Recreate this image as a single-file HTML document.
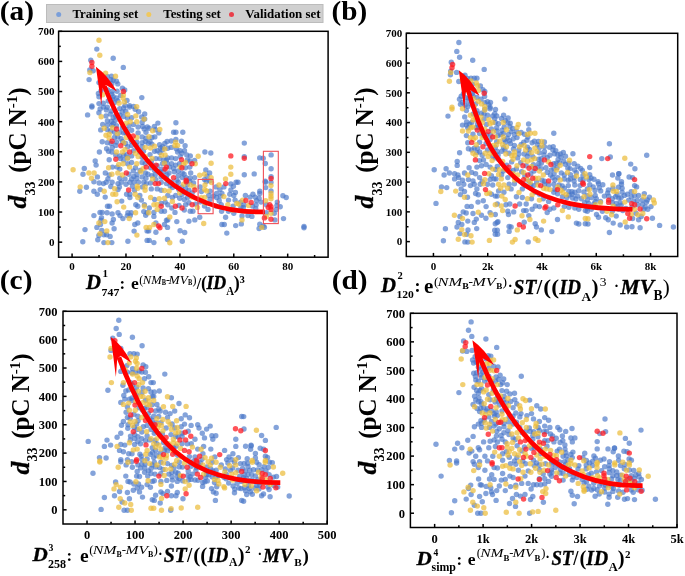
<!DOCTYPE html>
<html><head><meta charset="utf-8"><style>html,body{margin:0;padding:0;background:#fff;width:685px;height:576px;overflow:hidden}</style></head>
<body><svg xmlns="http://www.w3.org/2000/svg" width="685" height="576" viewBox="0 0 685 576" style="position:absolute;left:0;top:0;filter:blur(0.35px)" font-family='"Liberation Serif", serif'><rect width="685" height="576" fill="#fff"/><g fill="#4a78c8" fill-opacity="0.68"><circle cx="96.8" cy="49.1" r="2.7"/><circle cx="113.2" cy="58.2" r="2.7"/><circle cx="90.8" cy="60.2" r="2.7"/><circle cx="123.3" cy="67.4" r="2.7"/><circle cx="89.8" cy="70.0" r="2.7"/><circle cx="93.2" cy="70.7" r="2.7"/><circle cx="89.1" cy="79.6" r="2.7"/><circle cx="111.5" cy="76.1" r="2.7"/><circle cx="110.9" cy="79.6" r="2.7"/><circle cx="113.2" cy="80.3" r="2.7"/><circle cx="116.5" cy="81.2" r="2.7"/><circle cx="117.8" cy="83.9" r="2.7"/><circle cx="122.4" cy="88.2" r="2.7"/><circle cx="124.7" cy="89.9" r="2.7"/><circle cx="112.1" cy="91.4" r="2.7"/><circle cx="111.9" cy="94.1" r="2.7"/><circle cx="113.2" cy="96.7" r="2.7"/><circle cx="117.1" cy="91.2" r="2.7"/><circle cx="116.5" cy="98.0" r="2.7"/><circle cx="117.8" cy="100.6" r="2.7"/><circle cx="127.0" cy="100.4" r="2.7"/><circle cx="141.8" cy="97.6" r="2.7"/><circle cx="103.3" cy="103.3" r="2.7"/><circle cx="91.9" cy="105.9" r="2.7"/><circle cx="112.5" cy="99.3" r="2.7"/><circle cx="114.5" cy="102.6" r="2.7"/><circle cx="125.0" cy="105.6" r="2.7"/><circle cx="129.6" cy="105.6" r="2.7"/><circle cx="91.9" cy="107.1" r="2.7"/><circle cx="103.3" cy="107.1" r="2.7"/><circle cx="107.3" cy="107.3" r="2.7"/><circle cx="106.4" cy="109.9" r="2.7"/><circle cx="119.8" cy="108.6" r="2.7"/><circle cx="123.7" cy="108.0" r="2.7"/><circle cx="129.6" cy="107.1" r="2.7"/><circle cx="125.7" cy="111.3" r="2.7"/><circle cx="122.1" cy="111.9" r="2.7"/><circle cx="87.6" cy="114.9" r="2.7"/><circle cx="106.0" cy="115.9" r="2.7"/><circle cx="110.3" cy="114.1" r="2.7"/><circle cx="113.2" cy="117.8" r="2.7"/><circle cx="144.7" cy="113.9" r="2.7"/><circle cx="119.8" cy="115.2" r="2.7"/><circle cx="123.7" cy="116.5" r="2.7"/><circle cx="131.6" cy="117.8" r="2.7"/><circle cx="144.7" cy="119.1" r="2.7"/><circle cx="111.2" cy="121.5" r="2.7"/><circle cx="115.2" cy="120.5" r="2.7"/><circle cx="113.2" cy="123.7" r="2.7"/><circle cx="133.5" cy="124.4" r="2.7"/><circle cx="142.1" cy="122.4" r="2.7"/><circle cx="102.7" cy="124.4" r="2.7"/><circle cx="107.3" cy="125.1" r="2.7"/><circle cx="111.9" cy="125.1" r="2.7"/><circle cx="116.5" cy="125.7" r="2.7"/><circle cx="107.3" cy="129.6" r="2.7"/><circle cx="100.7" cy="129.9" r="2.7"/><circle cx="110.6" cy="131.0" r="2.7"/><circle cx="122.4" cy="127.7" r="2.7"/><circle cx="128.9" cy="125.7" r="2.7"/><circle cx="126.3" cy="129.6" r="2.7"/><circle cx="131.6" cy="130.3" r="2.7"/><circle cx="138.1" cy="127.0" r="2.7"/><circle cx="142.7" cy="126.4" r="2.7"/><circle cx="147.3" cy="127.0" r="2.7"/><circle cx="146.0" cy="132.3" r="2.7"/><circle cx="138.1" cy="132.9" r="2.7"/><circle cx="114.5" cy="132.3" r="2.7"/><circle cx="119.8" cy="132.3" r="2.7"/><circle cx="123.7" cy="132.9" r="2.7"/><circle cx="142.1" cy="136.9" r="2.7"/><circle cx="146.0" cy="138.2" r="2.7"/><circle cx="114.5" cy="137.5" r="2.7"/><circle cx="117.8" cy="136.9" r="2.7"/><circle cx="121.1" cy="138.8" r="2.7"/><circle cx="130.3" cy="138.8" r="2.7"/><circle cx="107.3" cy="142.8" r="2.7"/><circle cx="111.2" cy="143.4" r="2.7"/><circle cx="116.5" cy="142.1" r="2.7"/><circle cx="122.4" cy="141.5" r="2.7"/><circle cx="125.7" cy="143.4" r="2.7"/><circle cx="131.6" cy="141.5" r="2.7"/><circle cx="136.8" cy="142.1" r="2.7"/><circle cx="142.1" cy="142.8" r="2.7"/><circle cx="145.4" cy="141.5" r="2.7"/><circle cx="115.8" cy="145.4" r="2.7"/><circle cx="127.6" cy="146.7" r="2.7"/><circle cx="131.6" cy="145.4" r="2.7"/><circle cx="136.8" cy="145.4" r="2.7"/><circle cx="142.1" cy="146.7" r="2.7"/><circle cx="99.4" cy="152.0" r="2.7"/><circle cx="106.6" cy="148.7" r="2.7"/><circle cx="108.6" cy="151.3" r="2.7"/><circle cx="111.9" cy="152.0" r="2.7"/><circle cx="133.5" cy="150.7" r="2.7"/><circle cx="139.5" cy="152.0" r="2.7"/><circle cx="143.4" cy="151.3" r="2.7"/><circle cx="115.8" cy="155.3" r="2.7"/><circle cx="119.8" cy="155.9" r="2.7"/><circle cx="123.7" cy="155.3" r="2.7"/><circle cx="127.6" cy="157.9" r="2.7"/><circle cx="131.6" cy="155.9" r="2.7"/><circle cx="142.1" cy="157.2" r="2.7"/><circle cx="120.4" cy="158.6" r="2.7"/><circle cx="123.7" cy="159.9" r="2.7"/><circle cx="95.2" cy="160.9" r="2.7"/><circle cx="96.1" cy="165.1" r="2.7"/><circle cx="84.3" cy="168.4" r="2.7"/><circle cx="83.0" cy="174.3" r="2.7"/><circle cx="97.4" cy="176.9" r="2.7"/><circle cx="105.3" cy="173.0" r="2.7"/><circle cx="112.5" cy="167.1" r="2.7"/><circle cx="117.1" cy="167.1" r="2.7"/><circle cx="127.6" cy="163.8" r="2.7"/><circle cx="131.6" cy="162.5" r="2.7"/><circle cx="142.1" cy="162.5" r="2.7"/><circle cx="119.8" cy="169.1" r="2.7"/><circle cx="135.5" cy="167.8" r="2.7"/><circle cx="140.1" cy="170.4" r="2.7"/><circle cx="128.9" cy="174.3" r="2.7"/><circle cx="145.4" cy="173.0" r="2.7"/><circle cx="109.2" cy="175.0" r="2.7"/><circle cx="107.9" cy="178.9" r="2.7"/><circle cx="119.8" cy="178.3" r="2.7"/><circle cx="125.0" cy="178.9" r="2.7"/><circle cx="131.6" cy="178.9" r="2.7"/><circle cx="136.8" cy="178.3" r="2.7"/><circle cx="142.1" cy="176.9" r="2.7"/><circle cx="146.0" cy="178.3" r="2.7"/><circle cx="157.9" cy="123.1" r="2.7"/><circle cx="175.9" cy="122.8" r="2.7"/><circle cx="149.1" cy="128.3" r="2.7"/><circle cx="158.8" cy="132.9" r="2.7"/><circle cx="173.6" cy="132.3" r="2.7"/><circle cx="175.9" cy="132.3" r="2.7"/><circle cx="182.8" cy="132.3" r="2.7"/><circle cx="151.9" cy="137.5" r="2.7"/><circle cx="154.8" cy="136.9" r="2.7"/><circle cx="175.9" cy="139.5" r="2.7"/><circle cx="181.5" cy="141.2" r="2.7"/><circle cx="167.1" cy="141.5" r="2.7"/><circle cx="164.8" cy="143.4" r="2.7"/><circle cx="151.9" cy="144.1" r="2.7"/><circle cx="159.6" cy="144.8" r="2.7"/><circle cx="160.5" cy="148.0" r="2.7"/><circle cx="162.5" cy="146.7" r="2.7"/><circle cx="185.1" cy="145.7" r="2.7"/><circle cx="176.2" cy="148.7" r="2.7"/><circle cx="177.6" cy="152.0" r="2.7"/><circle cx="184.5" cy="150.7" r="2.7"/><circle cx="181.9" cy="153.3" r="2.7"/><circle cx="157.2" cy="150.7" r="2.7"/><circle cx="159.8" cy="152.6" r="2.7"/><circle cx="154.6" cy="151.3" r="2.7"/><circle cx="150.0" cy="154.6" r="2.7"/><circle cx="186.8" cy="154.9" r="2.7"/><circle cx="190.3" cy="155.9" r="2.7"/><circle cx="204.9" cy="152.0" r="2.7"/><circle cx="210.8" cy="153.0" r="2.7"/><circle cx="167.7" cy="157.9" r="2.7"/><circle cx="155.9" cy="158.6" r="2.7"/><circle cx="159.8" cy="158.6" r="2.7"/><circle cx="163.8" cy="159.9" r="2.7"/><circle cx="166.4" cy="159.9" r="2.7"/><circle cx="171.6" cy="157.9" r="2.7"/><circle cx="175.6" cy="158.6" r="2.7"/><circle cx="180.2" cy="156.6" r="2.7"/><circle cx="187.4" cy="159.9" r="2.7"/><circle cx="189.8" cy="161.2" r="2.7"/><circle cx="194.6" cy="160.5" r="2.7"/><circle cx="151.3" cy="161.2" r="2.7"/><circle cx="162.5" cy="163.8" r="2.7"/><circle cx="171.6" cy="163.8" r="2.7"/><circle cx="175.6" cy="165.1" r="2.7"/><circle cx="179.5" cy="163.8" r="2.7"/><circle cx="185.4" cy="167.8" r="2.7"/><circle cx="189.8" cy="167.1" r="2.7"/><circle cx="169.7" cy="167.1" r="2.7"/><circle cx="173.6" cy="168.4" r="2.7"/><circle cx="161.1" cy="169.1" r="2.7"/><circle cx="157.2" cy="165.8" r="2.7"/><circle cx="150.6" cy="167.8" r="2.7"/><circle cx="154.6" cy="170.4" r="2.7"/><circle cx="159.8" cy="171.7" r="2.7"/><circle cx="163.8" cy="171.7" r="2.7"/><circle cx="169.0" cy="173.0" r="2.7"/><circle cx="174.3" cy="171.7" r="2.7"/><circle cx="178.2" cy="171.0" r="2.7"/><circle cx="182.2" cy="173.0" r="2.7"/><circle cx="184.1" cy="174.3" r="2.7"/><circle cx="190.7" cy="173.0" r="2.7"/><circle cx="148.0" cy="174.3" r="2.7"/><circle cx="151.9" cy="175.6" r="2.7"/><circle cx="161.1" cy="176.9" r="2.7"/><circle cx="166.4" cy="178.3" r="2.7"/><circle cx="178.2" cy="175.6" r="2.7"/><circle cx="182.2" cy="177.6" r="2.7"/><circle cx="186.1" cy="177.6" r="2.7"/><circle cx="190.0" cy="178.3" r="2.7"/><circle cx="194.6" cy="177.6" r="2.7"/><circle cx="204.5" cy="179.6" r="2.7"/><circle cx="155.9" cy="179.6" r="2.7"/><circle cx="176.9" cy="180.2" r="2.7"/><circle cx="244.3" cy="143.1" r="2.7"/><circle cx="244.3" cy="156.6" r="2.7"/><circle cx="259.7" cy="157.9" r="2.7"/><circle cx="263.2" cy="158.2" r="2.7"/><circle cx="271.1" cy="154.9" r="2.7"/><circle cx="265.3" cy="163.5" r="2.7"/><circle cx="271.1" cy="168.8" r="2.7"/><circle cx="244.3" cy="174.7" r="2.7"/><circle cx="254.2" cy="173.9" r="2.7"/><circle cx="271.1" cy="176.7" r="2.7"/><circle cx="265.3" cy="181.2" r="2.7"/><circle cx="93.9" cy="181.7" r="2.7"/><circle cx="99.2" cy="183.0" r="2.7"/><circle cx="103.5" cy="183.6" r="2.7"/><circle cx="106.2" cy="182.3" r="2.7"/><circle cx="112.1" cy="182.3" r="2.7"/><circle cx="118.0" cy="183.6" r="2.7"/><circle cx="121.3" cy="182.3" r="2.7"/><circle cx="126.0" cy="184.3" r="2.7"/><circle cx="129.9" cy="182.3" r="2.7"/><circle cx="133.9" cy="182.1" r="2.7"/><circle cx="138.5" cy="182.3" r="2.7"/><circle cx="143.8" cy="182.3" r="2.7"/><circle cx="146.4" cy="183.6" r="2.7"/><circle cx="86.4" cy="187.3" r="2.7"/><circle cx="79.8" cy="191.3" r="2.7"/><circle cx="93.9" cy="191.3" r="2.7"/><circle cx="97.3" cy="194.2" r="2.7"/><circle cx="100.2" cy="189.6" r="2.7"/><circle cx="105.2" cy="197.1" r="2.7"/><circle cx="110.8" cy="186.5" r="2.7"/><circle cx="118.0" cy="189.6" r="2.7"/><circle cx="119.4" cy="186.9" r="2.7"/><circle cx="132.5" cy="186.3" r="2.7"/><circle cx="142.4" cy="186.9" r="2.7"/><circle cx="134.5" cy="190.2" r="2.7"/><circle cx="126.6" cy="194.2" r="2.7"/><circle cx="129.9" cy="194.2" r="2.7"/><circle cx="129.9" cy="197.5" r="2.7"/><circle cx="139.8" cy="195.5" r="2.7"/><circle cx="141.4" cy="200.1" r="2.7"/><circle cx="121.7" cy="201.1" r="2.7"/><circle cx="107.5" cy="206.3" r="2.7"/><circle cx="109.5" cy="206.3" r="2.7"/><circle cx="135.8" cy="204.8" r="2.7"/><circle cx="137.8" cy="206.3" r="2.7"/><circle cx="144.4" cy="204.8" r="2.7"/><circle cx="93.9" cy="215.6" r="2.7"/><circle cx="100.0" cy="212.4" r="2.7"/><circle cx="102.2" cy="212.4" r="2.7"/><circle cx="107.1" cy="212.7" r="2.7"/><circle cx="112.1" cy="214.0" r="2.7"/><circle cx="118.0" cy="212.7" r="2.7"/><circle cx="120.0" cy="215.6" r="2.7"/><circle cx="122.9" cy="218.6" r="2.7"/><circle cx="127.3" cy="215.6" r="2.7"/><circle cx="127.9" cy="212.7" r="2.7"/><circle cx="131.2" cy="212.7" r="2.7"/><circle cx="130.3" cy="215.6" r="2.7"/><circle cx="143.8" cy="211.6" r="2.7"/><circle cx="147.1" cy="212.7" r="2.7"/><circle cx="145.7" cy="215.3" r="2.7"/><circle cx="101.5" cy="217.7" r="2.7"/><circle cx="100.9" cy="220.3" r="2.7"/><circle cx="100.5" cy="224.5" r="2.7"/><circle cx="113.4" cy="219.5" r="2.7"/><circle cx="112.1" cy="223.0" r="2.7"/><circle cx="134.8" cy="224.5" r="2.7"/><circle cx="137.8" cy="223.0" r="2.7"/><circle cx="96.9" cy="227.4" r="2.7"/><circle cx="85.0" cy="229.6" r="2.7"/><circle cx="101.8" cy="230.5" r="2.7"/><circle cx="114.1" cy="228.8" r="2.7"/><circle cx="134.1" cy="231.1" r="2.7"/><circle cx="147.1" cy="230.9" r="2.7"/><circle cx="98.9" cy="235.4" r="2.7"/><circle cx="103.9" cy="234.8" r="2.7"/><circle cx="106.6" cy="234.8" r="2.7"/><circle cx="110.1" cy="236.4" r="2.7"/><circle cx="97.8" cy="239.7" r="2.7"/><circle cx="82.8" cy="241.7" r="2.7"/><circle cx="103.9" cy="242.6" r="2.7"/><circle cx="111.8" cy="242.6" r="2.7"/><circle cx="127.9" cy="241.3" r="2.7"/><circle cx="147.1" cy="240.4" r="2.7"/><circle cx="150.6" cy="183.0" r="2.7"/><circle cx="161.2" cy="182.3" r="2.7"/><circle cx="166.5" cy="183.6" r="2.7"/><circle cx="171.8" cy="182.3" r="2.7"/><circle cx="178.3" cy="182.3" r="2.7"/><circle cx="193.5" cy="183.0" r="2.7"/><circle cx="151.3" cy="188.9" r="2.7"/><circle cx="157.2" cy="188.9" r="2.7"/><circle cx="161.2" cy="190.2" r="2.7"/><circle cx="172.4" cy="187.6" r="2.7"/><circle cx="176.4" cy="186.3" r="2.7"/><circle cx="181.6" cy="186.9" r="2.7"/><circle cx="185.6" cy="188.9" r="2.7"/><circle cx="188.9" cy="190.2" r="2.7"/><circle cx="192.2" cy="192.9" r="2.7"/><circle cx="200.1" cy="186.9" r="2.7"/><circle cx="201.4" cy="191.6" r="2.7"/><circle cx="216.0" cy="186.9" r="2.7"/><circle cx="223.9" cy="186.9" r="2.7"/><circle cx="219.9" cy="189.6" r="2.7"/><circle cx="230.9" cy="190.0" r="2.7"/><circle cx="236.1" cy="182.3" r="2.7"/><circle cx="216.6" cy="193.5" r="2.7"/><circle cx="221.9" cy="193.5" r="2.7"/><circle cx="229.8" cy="194.2" r="2.7"/><circle cx="233.8" cy="195.5" r="2.7"/><circle cx="154.6" cy="199.5" r="2.7"/><circle cx="167.8" cy="195.5" r="2.7"/><circle cx="172.4" cy="197.5" r="2.7"/><circle cx="175.7" cy="195.5" r="2.7"/><circle cx="179.7" cy="198.2" r="2.7"/><circle cx="184.3" cy="199.5" r="2.7"/><circle cx="187.6" cy="197.5" r="2.7"/><circle cx="208.7" cy="195.5" r="2.7"/><circle cx="210.0" cy="199.5" r="2.7"/><circle cx="216.6" cy="197.5" r="2.7"/><circle cx="228.5" cy="200.1" r="2.7"/><circle cx="235.1" cy="200.1" r="2.7"/><circle cx="161.2" cy="203.4" r="2.7"/><circle cx="165.2" cy="202.1" r="2.7"/><circle cx="167.8" cy="204.8" r="2.7"/><circle cx="179.0" cy="205.4" r="2.7"/><circle cx="185.6" cy="204.8" r="2.7"/><circle cx="188.9" cy="202.8" r="2.7"/><circle cx="195.5" cy="204.1" r="2.7"/><circle cx="204.5" cy="206.1" r="2.7"/><circle cx="208.0" cy="209.4" r="2.7"/><circle cx="219.2" cy="200.8" r="2.7"/><circle cx="221.2" cy="204.8" r="2.7"/><circle cx="233.1" cy="206.1" r="2.7"/><circle cx="216.0" cy="206.1" r="2.7"/><circle cx="149.3" cy="208.0" r="2.7"/><circle cx="161.2" cy="211.3" r="2.7"/><circle cx="164.5" cy="211.3" r="2.7"/><circle cx="171.8" cy="208.0" r="2.7"/><circle cx="175.0" cy="212.4" r="2.7"/><circle cx="184.3" cy="210.0" r="2.7"/><circle cx="190.2" cy="211.3" r="2.7"/><circle cx="192.9" cy="211.3" r="2.7"/><circle cx="153.9" cy="212.4" r="2.7"/><circle cx="153.9" cy="216.4" r="2.7"/><circle cx="221.6" cy="211.3" r="2.7"/><circle cx="228.5" cy="211.3" r="2.7"/><circle cx="233.8" cy="213.3" r="2.7"/><circle cx="166.5" cy="220.2" r="2.7"/><circle cx="167.8" cy="219.9" r="2.7"/><circle cx="176.8" cy="221.6" r="2.7"/><circle cx="188.9" cy="221.2" r="2.7"/><circle cx="194.8" cy="219.9" r="2.7"/><circle cx="199.7" cy="217.3" r="2.7"/><circle cx="225.6" cy="217.3" r="2.7"/><circle cx="155.9" cy="223.0" r="2.7"/><circle cx="164.5" cy="224.5" r="2.7"/><circle cx="167.5" cy="227.4" r="2.7"/><circle cx="148.7" cy="230.9" r="2.7"/><circle cx="155.9" cy="232.2" r="2.7"/><circle cx="180.1" cy="230.7" r="2.7"/><circle cx="184.7" cy="232.5" r="2.7"/><circle cx="221.9" cy="224.5" r="2.7"/><circle cx="224.3" cy="224.5" r="2.7"/><circle cx="235.7" cy="225.6" r="2.7"/><circle cx="226.8" cy="233.1" r="2.7"/><circle cx="149.3" cy="240.4" r="2.7"/><circle cx="153.9" cy="242.6" r="2.7"/><circle cx="167.5" cy="239.5" r="2.7"/><circle cx="182.3" cy="241.3" r="2.7"/><circle cx="238.0" cy="182.3" r="2.7"/><circle cx="265.4" cy="182.3" r="2.7"/><circle cx="271.0" cy="182.3" r="2.7"/><circle cx="265.7" cy="187.6" r="2.7"/><circle cx="259.8" cy="191.3" r="2.7"/><circle cx="259.8" cy="193.5" r="2.7"/><circle cx="271.0" cy="190.9" r="2.7"/><circle cx="250.1" cy="197.1" r="2.7"/><circle cx="255.2" cy="197.1" r="2.7"/><circle cx="259.1" cy="198.2" r="2.7"/><circle cx="282.9" cy="195.8" r="2.7"/><circle cx="286.2" cy="197.5" r="2.7"/><circle cx="240.6" cy="202.1" r="2.7"/><circle cx="256.5" cy="200.8" r="2.7"/><circle cx="261.1" cy="202.1" r="2.7"/><circle cx="266.4" cy="204.8" r="2.7"/><circle cx="277.3" cy="202.1" r="2.7"/><circle cx="276.9" cy="205.4" r="2.7"/><circle cx="280.2" cy="206.7" r="2.7"/><circle cx="276.3" cy="209.4" r="2.7"/><circle cx="243.9" cy="204.8" r="2.7"/><circle cx="252.5" cy="206.1" r="2.7"/><circle cx="243.3" cy="207.4" r="2.7"/><circle cx="255.8" cy="208.7" r="2.7"/><circle cx="266.4" cy="212.7" r="2.7"/><circle cx="274.3" cy="213.3" r="2.7"/><circle cx="242.0" cy="216.0" r="2.7"/><circle cx="247.9" cy="215.6" r="2.7"/><circle cx="251.9" cy="216.4" r="2.7"/><circle cx="274.9" cy="219.9" r="2.7"/><circle cx="283.5" cy="218.6" r="2.7"/><circle cx="241.3" cy="223.9" r="2.7"/><circle cx="259.8" cy="224.3" r="2.7"/><circle cx="263.1" cy="225.9" r="2.7"/><circle cx="259.1" cy="228.5" r="2.7"/><circle cx="264.4" cy="227.2" r="2.7"/><circle cx="304.0" cy="226.5" r="2.7"/><circle cx="304.0" cy="227.8" r="2.7"/><circle cx="458.9" cy="42.5" r="2.7"/><circle cx="456.8" cy="51.4" r="2.7"/><circle cx="459.6" cy="57.3" r="2.7"/><circle cx="472.7" cy="60.3" r="2.7"/><circle cx="484.2" cy="69.4" r="2.7"/><circle cx="451.3" cy="62.2" r="2.7"/><circle cx="450.7" cy="71.1" r="2.7"/><circle cx="450.4" cy="74.8" r="2.7"/><circle cx="456.6" cy="72.4" r="2.7"/><circle cx="471.0" cy="78.3" r="2.7"/><circle cx="474.3" cy="78.3" r="2.7"/><circle cx="476.9" cy="78.3" r="2.7"/><circle cx="472.4" cy="84.2" r="2.7"/><circle cx="482.9" cy="89.8" r="2.7"/><circle cx="484.8" cy="91.5" r="2.7"/><circle cx="484.6" cy="96.5" r="2.7"/><circle cx="461.2" cy="96.3" r="2.7"/><circle cx="465.1" cy="97.4" r="2.7"/><circle cx="472.4" cy="93.4" r="2.7"/><circle cx="473.0" cy="95.8" r="2.7"/><circle cx="476.9" cy="97.4" r="2.7"/><circle cx="467.8" cy="101.3" r="2.7"/><circle cx="487.5" cy="101.6" r="2.7"/><circle cx="484.8" cy="102.6" r="2.7"/><circle cx="490.1" cy="107.2" r="2.7"/><circle cx="465.1" cy="105.3" r="2.7"/><circle cx="467.8" cy="106.6" r="2.7"/><circle cx="475.6" cy="103.9" r="2.7"/><circle cx="504.9" cy="99.0" r="2.7"/><circle cx="466.4" cy="110.6" r="2.7"/><circle cx="464.7" cy="116.9" r="2.7"/><circle cx="448.0" cy="116.1" r="2.7"/><circle cx="476.9" cy="110.6" r="2.7"/><circle cx="484.8" cy="109.3" r="2.7"/><circle cx="490.1" cy="108.7" r="2.7"/><circle cx="481.5" cy="113.3" r="2.7"/><circle cx="487.5" cy="115.2" r="2.7"/><circle cx="492.7" cy="115.9" r="2.7"/><circle cx="494.7" cy="118.5" r="2.7"/><circle cx="495.3" cy="122.5" r="2.7"/><circle cx="462.5" cy="125.1" r="2.7"/><circle cx="466.4" cy="125.1" r="2.7"/><circle cx="471.7" cy="122.5" r="2.7"/><circle cx="477.6" cy="124.4" r="2.7"/><circle cx="467.8" cy="127.7" r="2.7"/><circle cx="491.4" cy="129.0" r="2.7"/><circle cx="466.4" cy="135.6" r="2.7"/><circle cx="473.0" cy="134.3" r="2.7"/><circle cx="479.6" cy="133.6" r="2.7"/><circle cx="483.5" cy="135.6" r="2.7"/><circle cx="490.1" cy="139.5" r="2.7"/><circle cx="467.8" cy="142.8" r="2.7"/><circle cx="479.6" cy="142.2" r="2.7"/><circle cx="486.1" cy="143.5" r="2.7"/><circle cx="490.1" cy="146.1" r="2.7"/><circle cx="495.3" cy="147.4" r="2.7"/><circle cx="468.4" cy="148.7" r="2.7"/><circle cx="471.7" cy="150.0" r="2.7"/><circle cx="474.3" cy="148.1" r="2.7"/><circle cx="479.6" cy="152.0" r="2.7"/><circle cx="482.2" cy="155.3" r="2.7"/><circle cx="487.5" cy="150.0" r="2.7"/><circle cx="492.7" cy="151.4" r="2.7"/><circle cx="459.6" cy="152.7" r="2.7"/><circle cx="479.6" cy="160.6" r="2.7"/><circle cx="483.5" cy="159.9" r="2.7"/><circle cx="495.3" cy="157.9" r="2.7"/><circle cx="457.2" cy="161.5" r="2.7"/><circle cx="457.2" cy="165.4" r="2.7"/><circle cx="446.1" cy="168.7" r="2.7"/><circle cx="434.2" cy="169.8" r="2.7"/><circle cx="469.1" cy="167.8" r="2.7"/><circle cx="476.9" cy="167.1" r="2.7"/><circle cx="481.5" cy="165.8" r="2.7"/><circle cx="486.1" cy="164.5" r="2.7"/><circle cx="490.1" cy="167.1" r="2.7"/><circle cx="449.4" cy="173.0" r="2.7"/><circle cx="444.1" cy="175.0" r="2.7"/><circle cx="454.6" cy="173.7" r="2.7"/><circle cx="457.9" cy="175.0" r="2.7"/><circle cx="464.5" cy="173.0" r="2.7"/><circle cx="471.7" cy="172.4" r="2.7"/><circle cx="475.6" cy="173.7" r="2.7"/><circle cx="491.4" cy="175.7" r="2.7"/><circle cx="454.6" cy="178.9" r="2.7"/><circle cx="458.6" cy="177.6" r="2.7"/><circle cx="462.5" cy="180.3" r="2.7"/><circle cx="468.4" cy="179.6" r="2.7"/><circle cx="473.0" cy="180.9" r="2.7"/><circle cx="490.1" cy="179.6" r="2.7"/><circle cx="494.0" cy="178.9" r="2.7"/><circle cx="479.6" cy="177.6" r="2.7"/><circle cx="482.2" cy="181.6" r="2.7"/><circle cx="496.7" cy="115.9" r="2.7"/><circle cx="503.6" cy="115.2" r="2.7"/><circle cx="508.1" cy="117.9" r="2.7"/><circle cx="505.2" cy="120.5" r="2.7"/><circle cx="498.6" cy="123.8" r="2.7"/><circle cx="528.6" cy="124.0" r="2.7"/><circle cx="496.7" cy="127.7" r="2.7"/><circle cx="501.9" cy="130.3" r="2.7"/><circle cx="511.1" cy="131.6" r="2.7"/><circle cx="528.8" cy="129.7" r="2.7"/><circle cx="553.8" cy="133.2" r="2.7"/><circle cx="498.0" cy="135.6" r="2.7"/><circle cx="507.2" cy="138.2" r="2.7"/><circle cx="513.1" cy="138.9" r="2.7"/><circle cx="517.0" cy="137.6" r="2.7"/><circle cx="526.9" cy="140.2" r="2.7"/><circle cx="532.1" cy="142.8" r="2.7"/><circle cx="537.4" cy="144.8" r="2.7"/><circle cx="544.4" cy="141.9" r="2.7"/><circle cx="510.5" cy="143.5" r="2.7"/><circle cx="514.4" cy="145.4" r="2.7"/><circle cx="529.5" cy="149.4" r="2.7"/><circle cx="539.4" cy="147.4" r="2.7"/><circle cx="544.4" cy="146.8" r="2.7"/><circle cx="544.4" cy="151.4" r="2.7"/><circle cx="539.4" cy="152.7" r="2.7"/><circle cx="497.3" cy="151.4" r="2.7"/><circle cx="509.1" cy="153.3" r="2.7"/><circle cx="519.0" cy="154.0" r="2.7"/><circle cx="524.2" cy="154.0" r="2.7"/><circle cx="528.8" cy="153.3" r="2.7"/><circle cx="532.8" cy="156.6" r="2.7"/><circle cx="549.9" cy="155.3" r="2.7"/><circle cx="563.3" cy="152.4" r="2.7"/><circle cx="572.9" cy="153.7" r="2.7"/><circle cx="517.7" cy="157.9" r="2.7"/><circle cx="538.7" cy="159.2" r="2.7"/><circle cx="541.3" cy="163.2" r="2.7"/><circle cx="556.4" cy="163.2" r="2.7"/><circle cx="561.0" cy="157.3" r="2.7"/><circle cx="563.7" cy="161.2" r="2.7"/><circle cx="574.2" cy="163.8" r="2.7"/><circle cx="557.1" cy="167.8" r="2.7"/><circle cx="526.2" cy="165.8" r="2.7"/><circle cx="538.0" cy="167.1" r="2.7"/><circle cx="545.9" cy="167.8" r="2.7"/><circle cx="497.3" cy="166.5" r="2.7"/><circle cx="503.2" cy="171.1" r="2.7"/><circle cx="513.1" cy="170.4" r="2.7"/><circle cx="521.6" cy="171.7" r="2.7"/><circle cx="530.8" cy="173.7" r="2.7"/><circle cx="547.2" cy="172.4" r="2.7"/><circle cx="550.5" cy="175.0" r="2.7"/><circle cx="542.0" cy="180.3" r="2.7"/><circle cx="557.8" cy="177.6" r="2.7"/><circle cx="564.3" cy="175.0" r="2.7"/><circle cx="574.2" cy="177.6" r="2.7"/><circle cx="568.3" cy="180.3" r="2.7"/><circle cx="496.0" cy="178.9" r="2.7"/><circle cx="507.8" cy="177.6" r="2.7"/><circle cx="528.8" cy="180.9" r="2.7"/><circle cx="609.4" cy="143.7" r="2.7"/><circle cx="601.8" cy="158.6" r="2.7"/><circle cx="610.3" cy="157.0" r="2.7"/><circle cx="646.7" cy="155.3" r="2.7"/><circle cx="630.7" cy="164.1" r="2.7"/><circle cx="634.9" cy="168.8" r="2.7"/><circle cx="589.7" cy="167.5" r="2.7"/><circle cx="589.7" cy="174.7" r="2.7"/><circle cx="588.9" cy="179.6" r="2.7"/><circle cx="598.1" cy="181.8" r="2.7"/><circle cx="612.5" cy="175.0" r="2.7"/><circle cx="618.8" cy="173.7" r="2.7"/><circle cx="618.8" cy="173.7" r="2.7"/><circle cx="617.8" cy="178.0" r="2.7"/><circle cx="629.1" cy="177.0" r="2.7"/><circle cx="632.6" cy="177.6" r="2.7"/><circle cx="621.5" cy="181.8" r="2.7"/><circle cx="458.6" cy="183.7" r="2.7"/><circle cx="463.8" cy="184.3" r="2.7"/><circle cx="470.4" cy="185.6" r="2.7"/><circle cx="474.3" cy="184.3" r="2.7"/><circle cx="480.2" cy="184.3" r="2.7"/><circle cx="487.5" cy="184.3" r="2.7"/><circle cx="492.7" cy="185.0" r="2.7"/><circle cx="441.5" cy="186.9" r="2.7"/><circle cx="446.7" cy="187.6" r="2.7"/><circle cx="461.2" cy="188.9" r="2.7"/><circle cx="464.5" cy="191.5" r="2.7"/><circle cx="460.5" cy="194.6" r="2.7"/><circle cx="467.5" cy="197.2" r="2.7"/><circle cx="476.9" cy="188.9" r="2.7"/><circle cx="475.6" cy="193.5" r="2.7"/><circle cx="478.3" cy="194.8" r="2.7"/><circle cx="491.4" cy="194.2" r="2.7"/><circle cx="495.3" cy="196.1" r="2.7"/><circle cx="436.0" cy="203.4" r="2.7"/><circle cx="478.0" cy="202.1" r="2.7"/><circle cx="483.3" cy="200.7" r="2.7"/><circle cx="467.1" cy="206.4" r="2.7"/><circle cx="471.3" cy="206.4" r="2.7"/><circle cx="486.1" cy="206.6" r="2.7"/><circle cx="463.2" cy="211.9" r="2.7"/><circle cx="466.2" cy="213.0" r="2.7"/><circle cx="473.0" cy="213.5" r="2.7"/><circle cx="481.5" cy="215.2" r="2.7"/><circle cx="485.9" cy="218.2" r="2.7"/><circle cx="490.1" cy="212.6" r="2.7"/><circle cx="495.3" cy="214.5" r="2.7"/><circle cx="459.9" cy="216.5" r="2.7"/><circle cx="467.8" cy="221.1" r="2.7"/><circle cx="474.3" cy="222.4" r="2.7"/><circle cx="476.3" cy="219.1" r="2.7"/><circle cx="458.3" cy="222.4" r="2.7"/><circle cx="457.0" cy="227.0" r="2.7"/><circle cx="461.8" cy="224.4" r="2.7"/><circle cx="445.4" cy="228.7" r="2.7"/><circle cx="468.0" cy="229.9" r="2.7"/><circle cx="476.7" cy="228.6" r="2.7"/><circle cx="459.9" cy="233.6" r="2.7"/><circle cx="466.7" cy="234.2" r="2.7"/><circle cx="495.3" cy="223.7" r="2.7"/><circle cx="494.7" cy="230.3" r="2.7"/><circle cx="495.3" cy="234.2" r="2.7"/><circle cx="464.9" cy="241.9" r="2.7"/><circle cx="467.8" cy="242.1" r="2.7"/><circle cx="443.4" cy="240.8" r="2.7"/><circle cx="509.1" cy="184.3" r="2.7"/><circle cx="514.4" cy="183.7" r="2.7"/><circle cx="511.1" cy="188.9" r="2.7"/><circle cx="503.9" cy="192.2" r="2.7"/><circle cx="498.6" cy="190.9" r="2.7"/><circle cx="522.3" cy="188.9" r="2.7"/><circle cx="525.6" cy="185.6" r="2.7"/><circle cx="530.8" cy="185.0" r="2.7"/><circle cx="544.6" cy="184.3" r="2.7"/><circle cx="548.6" cy="185.0" r="2.7"/><circle cx="553.8" cy="184.3" r="2.7"/><circle cx="559.1" cy="185.0" r="2.7"/><circle cx="564.3" cy="188.3" r="2.7"/><circle cx="568.3" cy="185.6" r="2.7"/><circle cx="574.8" cy="185.0" r="2.7"/><circle cx="580.1" cy="185.6" r="2.7"/><circle cx="553.8" cy="192.2" r="2.7"/><circle cx="535.4" cy="192.2" r="2.7"/><circle cx="539.4" cy="194.2" r="2.7"/><circle cx="497.3" cy="196.1" r="2.7"/><circle cx="516.4" cy="196.8" r="2.7"/><circle cx="522.3" cy="197.5" r="2.7"/><circle cx="531.5" cy="198.8" r="2.7"/><circle cx="543.3" cy="198.8" r="2.7"/><circle cx="548.6" cy="201.4" r="2.7"/><circle cx="562.4" cy="196.8" r="2.7"/><circle cx="566.9" cy="197.5" r="2.7"/><circle cx="572.2" cy="194.2" r="2.7"/><circle cx="574.8" cy="192.2" r="2.7"/><circle cx="577.5" cy="196.1" r="2.7"/><circle cx="581.4" cy="198.8" r="2.7"/><circle cx="497.3" cy="204.0" r="2.7"/><circle cx="505.9" cy="204.7" r="2.7"/><circle cx="509.8" cy="204.0" r="2.7"/><circle cx="519.6" cy="204.0" r="2.7"/><circle cx="526.2" cy="204.0" r="2.7"/><circle cx="535.4" cy="206.0" r="2.7"/><circle cx="539.4" cy="206.6" r="2.7"/><circle cx="549.9" cy="209.3" r="2.7"/><circle cx="553.8" cy="208.0" r="2.7"/><circle cx="564.3" cy="206.6" r="2.7"/><circle cx="568.9" cy="207.3" r="2.7"/><circle cx="574.8" cy="208.0" r="2.7"/><circle cx="578.8" cy="209.3" r="2.7"/><circle cx="585.3" cy="210.6" r="2.7"/><circle cx="507.8" cy="211.2" r="2.7"/><circle cx="513.7" cy="211.9" r="2.7"/><circle cx="523.6" cy="210.6" r="2.7"/><circle cx="526.2" cy="210.6" r="2.7"/><circle cx="532.1" cy="209.3" r="2.7"/><circle cx="547.2" cy="212.6" r="2.7"/><circle cx="508.5" cy="214.5" r="2.7"/><circle cx="528.8" cy="215.6" r="2.7"/><circle cx="497.1" cy="222.4" r="2.7"/><circle cx="498.0" cy="221.8" r="2.7"/><circle cx="509.1" cy="226.4" r="2.7"/><circle cx="511.1" cy="227.0" r="2.7"/><circle cx="524.2" cy="222.2" r="2.7"/><circle cx="535.2" cy="223.7" r="2.7"/><circle cx="536.5" cy="227.0" r="2.7"/><circle cx="557.5" cy="219.5" r="2.7"/><circle cx="576.4" cy="223.1" r="2.7"/><circle cx="578.8" cy="224.0" r="2.7"/><circle cx="585.3" cy="223.7" r="2.7"/><circle cx="509.1" cy="231.4" r="2.7"/><circle cx="497.3" cy="230.3" r="2.7"/><circle cx="497.6" cy="234.2" r="2.7"/><circle cx="541.3" cy="229.9" r="2.7"/><circle cx="551.8" cy="231.6" r="2.7"/><circle cx="528.2" cy="241.9" r="2.7"/><circle cx="593.2" cy="186.9" r="2.7"/><circle cx="598.5" cy="183.7" r="2.7"/><circle cx="587.3" cy="188.9" r="2.7"/><circle cx="612.9" cy="188.3" r="2.7"/><circle cx="621.5" cy="184.3" r="2.7"/><circle cx="622.1" cy="188.3" r="2.7"/><circle cx="622.1" cy="192.2" r="2.7"/><circle cx="634.6" cy="185.6" r="2.7"/><circle cx="636.6" cy="186.9" r="2.7"/><circle cx="607.7" cy="192.9" r="2.7"/><circle cx="604.4" cy="196.1" r="2.7"/><circle cx="595.2" cy="195.5" r="2.7"/><circle cx="591.3" cy="197.5" r="2.7"/><circle cx="587.3" cy="200.1" r="2.7"/><circle cx="627.4" cy="194.2" r="2.7"/><circle cx="631.3" cy="196.8" r="2.7"/><circle cx="638.6" cy="195.5" r="2.7"/><circle cx="615.6" cy="196.8" r="2.7"/><circle cx="618.8" cy="198.1" r="2.7"/><circle cx="612.3" cy="198.8" r="2.7"/><circle cx="600.5" cy="201.4" r="2.7"/><circle cx="593.9" cy="204.0" r="2.7"/><circle cx="588.6" cy="203.4" r="2.7"/><circle cx="628.7" cy="200.1" r="2.7"/><circle cx="620.2" cy="202.7" r="2.7"/><circle cx="616.2" cy="203.4" r="2.7"/><circle cx="612.3" cy="202.7" r="2.7"/><circle cx="637.9" cy="204.7" r="2.7"/><circle cx="643.8" cy="209.3" r="2.7"/><circle cx="647.8" cy="209.3" r="2.7"/><circle cx="651.0" cy="206.6" r="2.7"/><circle cx="587.3" cy="208.0" r="2.7"/><circle cx="591.3" cy="209.3" r="2.7"/><circle cx="587.3" cy="211.2" r="2.7"/><circle cx="602.4" cy="211.2" r="2.7"/><circle cx="612.3" cy="211.2" r="2.7"/><circle cx="618.8" cy="209.3" r="2.7"/><circle cx="622.8" cy="210.6" r="2.7"/><circle cx="635.9" cy="213.2" r="2.7"/><circle cx="641.2" cy="216.5" r="2.7"/><circle cx="596.5" cy="214.5" r="2.7"/><circle cx="598.5" cy="217.2" r="2.7"/><circle cx="616.2" cy="216.1" r="2.7"/><circle cx="605.7" cy="217.8" r="2.7"/><circle cx="608.3" cy="219.8" r="2.7"/><circle cx="632.6" cy="218.5" r="2.7"/><circle cx="638.6" cy="219.8" r="2.7"/><circle cx="652.4" cy="218.2" r="2.7"/><circle cx="588.0" cy="224.0" r="2.7"/><circle cx="613.2" cy="223.1" r="2.7"/><circle cx="620.2" cy="225.0" r="2.7"/><circle cx="626.7" cy="227.0" r="2.7"/><circle cx="632.0" cy="226.8" r="2.7"/><circle cx="640.1" cy="227.7" r="2.7"/><circle cx="659.6" cy="225.4" r="2.7"/><circle cx="673.4" cy="227.0" r="2.7"/><circle cx="609.4" cy="232.5" r="2.7"/><circle cx="118.8" cy="320.2" r="2.7"/><circle cx="116.2" cy="328.5" r="2.7"/><circle cx="119.2" cy="334.4" r="2.7"/><circle cx="132.4" cy="337.3" r="2.7"/><circle cx="142.1" cy="345.8" r="2.7"/><circle cx="112.7" cy="338.3" r="2.7"/><circle cx="120.8" cy="348.4" r="2.7"/><circle cx="111.0" cy="350.4" r="2.7"/><circle cx="130.0" cy="353.7" r="2.7"/><circle cx="133.9" cy="353.7" r="2.7"/><circle cx="137.2" cy="354.1" r="2.7"/><circle cx="143.1" cy="364.9" r="2.7"/><circle cx="145.8" cy="366.8" r="2.7"/><circle cx="132.6" cy="368.8" r="2.7"/><circle cx="120.8" cy="371.4" r="2.7"/><circle cx="127.4" cy="372.1" r="2.7"/><circle cx="132.0" cy="372.8" r="2.7"/><circle cx="144.5" cy="378.7" r="2.7"/><circle cx="148.7" cy="376.7" r="2.7"/><circle cx="151.0" cy="382.6" r="2.7"/><circle cx="130.7" cy="382.6" r="2.7"/><circle cx="141.8" cy="372.1" r="2.7"/><circle cx="164.8" cy="374.1" r="2.7"/><circle cx="153.3" cy="382.6" r="2.7"/><circle cx="107.9" cy="390.2" r="2.7"/><circle cx="125.8" cy="391.0" r="2.7"/><circle cx="128.7" cy="389.9" r="2.7"/><circle cx="136.6" cy="387.3" r="2.7"/><circle cx="143.1" cy="388.0" r="2.7"/><circle cx="148.4" cy="388.6" r="2.7"/><circle cx="151.0" cy="391.9" r="2.7"/><circle cx="152.3" cy="396.5" r="2.7"/><circle cx="124.8" cy="399.1" r="2.7"/><circle cx="129.4" cy="399.1" r="2.7"/><circle cx="120.8" cy="402.4" r="2.7"/><circle cx="132.0" cy="400.5" r="2.7"/><circle cx="127.4" cy="407.0" r="2.7"/><circle cx="139.2" cy="407.7" r="2.7"/><circle cx="144.5" cy="408.3" r="2.7"/><circle cx="148.4" cy="413.6" r="2.7"/><circle cx="126.1" cy="412.3" r="2.7"/><circle cx="133.9" cy="414.2" r="2.7"/><circle cx="137.9" cy="416.2" r="2.7"/><circle cx="149.7" cy="418.8" r="2.7"/><circle cx="127.4" cy="417.5" r="2.7"/><circle cx="123.4" cy="421.5" r="2.7"/><circle cx="121.5" cy="425.2" r="2.7"/><circle cx="128.0" cy="424.8" r="2.7"/><circle cx="136.6" cy="424.1" r="2.7"/><circle cx="141.8" cy="432.0" r="2.7"/><circle cx="147.1" cy="425.4" r="2.7"/><circle cx="151.0" cy="429.4" r="2.7"/><circle cx="137.2" cy="429.4" r="2.7"/><circle cx="120.8" cy="433.3" r="2.7"/><circle cx="117.1" cy="437.2" r="2.7"/><circle cx="107.0" cy="440.1" r="2.7"/><circle cx="88.2" cy="441.4" r="2.7"/><circle cx="110.6" cy="445.1" r="2.7"/><circle cx="104.4" cy="446.4" r="2.7"/><circle cx="120.8" cy="444.5" r="2.7"/><circle cx="124.8" cy="445.1" r="2.7"/><circle cx="130.3" cy="439.9" r="2.7"/><circle cx="134.6" cy="438.6" r="2.7"/><circle cx="137.9" cy="436.6" r="2.7"/><circle cx="141.8" cy="438.6" r="2.7"/><circle cx="147.1" cy="435.9" r="2.7"/><circle cx="149.7" cy="439.9" r="2.7"/><circle cx="134.6" cy="444.5" r="2.7"/><circle cx="140.5" cy="443.8" r="2.7"/><circle cx="119.5" cy="450.4" r="2.7"/><circle cx="123.4" cy="451.7" r="2.7"/><circle cx="128.7" cy="453.7" r="2.7"/><circle cx="132.0" cy="453.7" r="2.7"/><circle cx="139.9" cy="454.3" r="2.7"/><circle cx="150.4" cy="454.3" r="2.7"/><circle cx="152.3" cy="447.8" r="2.7"/><circle cx="99.5" cy="457.6" r="2.7"/><circle cx="106.1" cy="458.0" r="2.7"/><circle cx="120.8" cy="459.6" r="2.7"/><circle cx="127.4" cy="459.6" r="2.7"/><circle cx="141.8" cy="459.6" r="2.7"/><circle cx="147.1" cy="458.9" r="2.7"/><circle cx="154.3" cy="391.9" r="2.7"/><circle cx="159.3" cy="391.0" r="2.7"/><circle cx="153.7" cy="396.5" r="2.7"/><circle cx="171.4" cy="397.8" r="2.7"/><circle cx="156.9" cy="404.4" r="2.7"/><circle cx="179.0" cy="403.5" r="2.7"/><circle cx="155.6" cy="411.0" r="2.7"/><circle cx="160.2" cy="411.0" r="2.7"/><circle cx="165.5" cy="412.3" r="2.7"/><circle cx="170.1" cy="413.6" r="2.7"/><circle cx="174.7" cy="411.0" r="2.7"/><circle cx="185.2" cy="414.9" r="2.7"/><circle cx="189.5" cy="417.8" r="2.7"/><circle cx="153.7" cy="416.2" r="2.7"/><circle cx="167.5" cy="417.5" r="2.7"/><circle cx="181.2" cy="418.8" r="2.7"/><circle cx="184.5" cy="424.1" r="2.7"/><circle cx="191.1" cy="425.4" r="2.7"/><circle cx="197.7" cy="424.8" r="2.7"/><circle cx="199.0" cy="428.0" r="2.7"/><circle cx="210.2" cy="426.1" r="2.7"/><circle cx="206.6" cy="429.1" r="2.7"/><circle cx="241.7" cy="416.5" r="2.7"/><circle cx="166.1" cy="428.0" r="2.7"/><circle cx="188.2" cy="431.3" r="2.7"/><circle cx="181.2" cy="426.7" r="2.7"/><circle cx="174.7" cy="428.0" r="2.7"/><circle cx="154.3" cy="433.3" r="2.7"/><circle cx="195.0" cy="439.2" r="2.7"/><circle cx="202.3" cy="433.3" r="2.7"/><circle cx="204.5" cy="437.9" r="2.7"/><circle cx="211.9" cy="435.7" r="2.7"/><circle cx="215.8" cy="435.7" r="2.7"/><circle cx="212.8" cy="439.2" r="2.7"/><circle cx="235.8" cy="439.2" r="2.7"/><circle cx="235.8" cy="446.4" r="2.7"/><circle cx="163.5" cy="442.5" r="2.7"/><circle cx="181.9" cy="443.8" r="2.7"/><circle cx="187.2" cy="443.8" r="2.7"/><circle cx="197.7" cy="449.1" r="2.7"/><circle cx="203.6" cy="446.4" r="2.7"/><circle cx="210.8" cy="449.1" r="2.7"/><circle cx="224.6" cy="450.4" r="2.7"/><circle cx="232.9" cy="453.7" r="2.7"/><circle cx="238.4" cy="457.6" r="2.7"/><circle cx="167.5" cy="451.0" r="2.7"/><circle cx="155.6" cy="450.4" r="2.7"/><circle cx="153.7" cy="457.6" r="2.7"/><circle cx="202.9" cy="453.7" r="2.7"/><circle cx="214.8" cy="456.9" r="2.7"/><circle cx="226.6" cy="459.6" r="2.7"/><circle cx="195.0" cy="456.9" r="2.7"/><circle cx="231.8" cy="459.6" r="2.7"/><circle cx="243.7" cy="416.6" r="2.7"/><circle cx="244.0" cy="429.0" r="2.7"/><circle cx="276.2" cy="427.4" r="2.7"/><circle cx="261.6" cy="435.5" r="2.7"/><circle cx="265.4" cy="440.4" r="2.7"/><circle cx="245.6" cy="446.2" r="2.7"/><circle cx="251.1" cy="445.2" r="2.7"/><circle cx="251.1" cy="445.9" r="2.7"/><circle cx="250.6" cy="449.2" r="2.7"/><circle cx="260.2" cy="448.2" r="2.7"/><circle cx="263.6" cy="449.2" r="2.7"/><circle cx="255.4" cy="453.4" r="2.7"/><circle cx="247.2" cy="458.7" r="2.7"/><circle cx="255.4" cy="457.9" r="2.7"/><circle cx="265.4" cy="456.3" r="2.7"/><circle cx="267.5" cy="457.4" r="2.7"/><circle cx="120.8" cy="461.7" r="2.7"/><circle cx="126.1" cy="464.9" r="2.7"/><circle cx="137.9" cy="464.9" r="2.7"/><circle cx="141.8" cy="464.3" r="2.7"/><circle cx="145.1" cy="464.3" r="2.7"/><circle cx="152.3" cy="464.9" r="2.7"/><circle cx="132.4" cy="467.3" r="2.7"/><circle cx="93.0" cy="473.2" r="2.7"/><circle cx="125.8" cy="476.1" r="2.7"/><circle cx="137.2" cy="471.5" r="2.7"/><circle cx="136.6" cy="476.1" r="2.7"/><circle cx="139.5" cy="476.5" r="2.7"/><circle cx="148.4" cy="470.9" r="2.7"/><circle cx="147.7" cy="476.1" r="2.7"/><circle cx="151.0" cy="473.5" r="2.7"/><circle cx="115.6" cy="482.0" r="2.7"/><circle cx="128.0" cy="481.4" r="2.7"/><circle cx="130.0" cy="482.0" r="2.7"/><circle cx="133.9" cy="484.0" r="2.7"/><circle cx="138.5" cy="484.0" r="2.7"/><circle cx="152.3" cy="481.4" r="2.7"/><circle cx="147.1" cy="484.6" r="2.7"/><circle cx="150.4" cy="487.3" r="2.7"/><circle cx="119.5" cy="491.5" r="2.7"/><circle cx="127.4" cy="492.5" r="2.7"/><circle cx="133.3" cy="490.2" r="2.7"/><circle cx="137.2" cy="487.9" r="2.7"/><circle cx="141.6" cy="487.3" r="2.7"/><circle cx="139.5" cy="491.9" r="2.7"/><circle cx="104.4" cy="497.5" r="2.7"/><circle cx="114.5" cy="495.8" r="2.7"/><circle cx="129.4" cy="498.8" r="2.7"/><circle cx="142.5" cy="497.1" r="2.7"/><circle cx="152.3" cy="499.8" r="2.7"/><circle cx="122.1" cy="502.0" r="2.7"/><circle cx="101.1" cy="509.4" r="2.7"/><circle cx="124.1" cy="510.3" r="2.7"/><circle cx="127.4" cy="510.3" r="2.7"/><circle cx="154.3" cy="462.3" r="2.7"/><circle cx="160.9" cy="462.3" r="2.7"/><circle cx="167.5" cy="463.6" r="2.7"/><circle cx="179.3" cy="462.3" r="2.7"/><circle cx="200.3" cy="463.0" r="2.7"/><circle cx="212.1" cy="462.3" r="2.7"/><circle cx="221.3" cy="464.9" r="2.7"/><circle cx="227.9" cy="463.0" r="2.7"/><circle cx="234.5" cy="462.3" r="2.7"/><circle cx="240.4" cy="463.6" r="2.7"/><circle cx="155.6" cy="466.9" r="2.7"/><circle cx="159.6" cy="467.6" r="2.7"/><circle cx="174.0" cy="467.6" r="2.7"/><circle cx="179.3" cy="466.9" r="2.7"/><circle cx="191.1" cy="466.3" r="2.7"/><circle cx="196.4" cy="467.6" r="2.7"/><circle cx="206.9" cy="466.9" r="2.7"/><circle cx="210.8" cy="468.9" r="2.7"/><circle cx="216.1" cy="470.2" r="2.7"/><circle cx="225.3" cy="468.9" r="2.7"/><circle cx="230.5" cy="470.2" r="2.7"/><circle cx="239.7" cy="476.1" r="2.7"/><circle cx="155.0" cy="474.1" r="2.7"/><circle cx="168.8" cy="474.1" r="2.7"/><circle cx="177.3" cy="476.8" r="2.7"/><circle cx="187.8" cy="475.5" r="2.7"/><circle cx="192.4" cy="474.1" r="2.7"/><circle cx="205.6" cy="477.4" r="2.7"/><circle cx="212.1" cy="476.8" r="2.7"/><circle cx="218.7" cy="475.5" r="2.7"/><circle cx="154.3" cy="480.7" r="2.7"/><circle cx="160.9" cy="481.4" r="2.7"/><circle cx="166.8" cy="480.4" r="2.7"/><circle cx="172.4" cy="480.1" r="2.7"/><circle cx="177.3" cy="481.4" r="2.7"/><circle cx="182.6" cy="480.7" r="2.7"/><circle cx="188.5" cy="480.1" r="2.7"/><circle cx="191.1" cy="479.4" r="2.7"/><circle cx="171.4" cy="486.0" r="2.7"/><circle cx="233.1" cy="486.0" r="2.7"/><circle cx="237.1" cy="483.3" r="2.7"/><circle cx="241.0" cy="488.6" r="2.7"/><circle cx="211.5" cy="488.6" r="2.7"/><circle cx="213.4" cy="491.9" r="2.7"/><circle cx="216.1" cy="493.2" r="2.7"/><circle cx="234.5" cy="492.8" r="2.7"/><circle cx="160.9" cy="491.9" r="2.7"/><circle cx="167.5" cy="491.5" r="2.7"/><circle cx="162.9" cy="493.6" r="2.7"/><circle cx="171.4" cy="495.8" r="2.7"/><circle cx="176.0" cy="495.8" r="2.7"/><circle cx="177.3" cy="492.5" r="2.7"/><circle cx="155.6" cy="495.2" r="2.7"/><circle cx="154.3" cy="500.4" r="2.7"/><circle cx="160.2" cy="503.0" r="2.7"/><circle cx="183.0" cy="498.8" r="2.7"/><circle cx="215.4" cy="500.4" r="2.7"/><circle cx="241.7" cy="500.4" r="2.7"/><circle cx="170.7" cy="510.3" r="2.7"/><circle cx="244.2" cy="463.5" r="2.7"/><circle cx="248.0" cy="466.6" r="2.7"/><circle cx="256.6" cy="462.2" r="2.7"/><circle cx="259.1" cy="464.7" r="2.7"/><circle cx="264.1" cy="466.6" r="2.7"/><circle cx="268.4" cy="467.2" r="2.7"/><circle cx="245.5" cy="470.9" r="2.7"/><circle cx="249.8" cy="470.3" r="2.7"/><circle cx="253.5" cy="469.7" r="2.7"/><circle cx="261.6" cy="469.7" r="2.7"/><circle cx="266.0" cy="470.9" r="2.7"/><circle cx="244.2" cy="474.6" r="2.7"/><circle cx="248.0" cy="474.6" r="2.7"/><circle cx="251.7" cy="474.6" r="2.7"/><circle cx="255.4" cy="475.9" r="2.7"/><circle cx="269.1" cy="474.6" r="2.7"/><circle cx="273.4" cy="477.1" r="2.7"/><circle cx="276.5" cy="476.5" r="2.7"/><circle cx="246.7" cy="478.4" r="2.7"/><circle cx="251.7" cy="479.6" r="2.7"/><circle cx="257.9" cy="479.6" r="2.7"/><circle cx="248.6" cy="485.8" r="2.7"/><circle cx="254.8" cy="488.3" r="2.7"/><circle cx="267.8" cy="487.1" r="2.7"/><circle cx="277.7" cy="487.1" r="2.7"/><circle cx="269.1" cy="489.5" r="2.7"/><circle cx="245.5" cy="490.8" r="2.7"/><circle cx="246.7" cy="494.5" r="2.7"/><circle cx="252.3" cy="494.3" r="2.7"/><circle cx="261.6" cy="495.7" r="2.7"/><circle cx="263.5" cy="493.9" r="2.7"/><circle cx="270.1" cy="496.7" r="2.7"/><circle cx="289.2" cy="496.0" r="2.7"/><circle cx="243.6" cy="501.3" r="2.7"/><circle cx="471.1" cy="321.9" r="2.7"/><circle cx="468.5" cy="330.3" r="2.7"/><circle cx="471.8" cy="336.4" r="2.7"/><circle cx="485.9" cy="339.0" r="2.7"/><circle cx="496.7" cy="347.4" r="2.7"/><circle cx="463.6" cy="340.9" r="2.7"/><circle cx="462.6" cy="351.1" r="2.7"/><circle cx="466.8" cy="351.4" r="2.7"/><circle cx="472.0" cy="350.4" r="2.7"/><circle cx="488.2" cy="355.7" r="2.7"/><circle cx="490.8" cy="356.1" r="2.7"/><circle cx="498.0" cy="366.9" r="2.7"/><circle cx="488.8" cy="368.2" r="2.7"/><circle cx="473.7" cy="373.2" r="2.7"/><circle cx="480.9" cy="374.8" r="2.7"/><circle cx="481.6" cy="377.4" r="2.7"/><circle cx="488.8" cy="376.1" r="2.7"/><circle cx="495.4" cy="381.3" r="2.7"/><circle cx="498.7" cy="379.4" r="2.7"/><circle cx="478.3" cy="381.3" r="2.7"/><circle cx="521.3" cy="376.3" r="2.7"/><circle cx="503.7" cy="379.0" r="2.7"/><circle cx="507.2" cy="384.6" r="2.7"/><circle cx="500.7" cy="384.6" r="2.7"/><circle cx="458.9" cy="392.6" r="2.7"/><circle cx="478.3" cy="393.3" r="2.7"/><circle cx="481.6" cy="388.7" r="2.7"/><circle cx="488.8" cy="394.6" r="2.7"/><circle cx="495.4" cy="391.9" r="2.7"/><circle cx="498.0" cy="395.9" r="2.7"/><circle cx="478.3" cy="401.8" r="2.7"/><circle cx="480.9" cy="401.8" r="2.7"/><circle cx="473.1" cy="404.4" r="2.7"/><circle cx="490.1" cy="399.8" r="2.7"/><circle cx="498.0" cy="401.1" r="2.7"/><circle cx="499.3" cy="405.1" r="2.7"/><circle cx="483.6" cy="407.7" r="2.7"/><circle cx="479.6" cy="411.6" r="2.7"/><circle cx="486.2" cy="411.0" r="2.7"/><circle cx="494.1" cy="413.6" r="2.7"/><circle cx="497.4" cy="415.6" r="2.7"/><circle cx="488.8" cy="416.9" r="2.7"/><circle cx="491.5" cy="421.5" r="2.7"/><circle cx="480.9" cy="420.8" r="2.7"/><circle cx="478.3" cy="424.1" r="2.7"/><circle cx="474.4" cy="426.8" r="2.7"/><circle cx="481.6" cy="427.4" r="2.7"/><circle cx="494.1" cy="426.1" r="2.7"/><circle cx="496.7" cy="431.4" r="2.7"/><circle cx="499.3" cy="428.7" r="2.7"/><circle cx="473.1" cy="436.4" r="2.7"/><circle cx="467.8" cy="440.3" r="2.7"/><circle cx="457.6" cy="443.2" r="2.7"/><circle cx="436.0" cy="444.2" r="2.7"/><circle cx="454.7" cy="449.1" r="2.7"/><circle cx="461.9" cy="447.8" r="2.7"/><circle cx="471.8" cy="451.1" r="2.7"/><circle cx="478.3" cy="447.8" r="2.7"/><circle cx="483.6" cy="441.9" r="2.7"/><circle cx="488.8" cy="447.8" r="2.7"/><circle cx="490.1" cy="441.2" r="2.7"/><circle cx="494.1" cy="439.9" r="2.7"/><circle cx="497.4" cy="441.9" r="2.7"/><circle cx="495.4" cy="446.5" r="2.7"/><circle cx="469.1" cy="453.0" r="2.7"/><circle cx="475.7" cy="456.3" r="2.7"/><circle cx="479.6" cy="449.8" r="2.7"/><circle cx="484.9" cy="456.3" r="2.7"/><circle cx="492.8" cy="456.3" r="2.7"/><circle cx="449.4" cy="460.5" r="2.7"/><circle cx="456.6" cy="460.9" r="2.7"/><circle cx="473.1" cy="461.6" r="2.7"/><circle cx="487.5" cy="460.9" r="2.7"/><circle cx="479.6" cy="461.6" r="2.7"/><circle cx="502.0" cy="390.6" r="2.7"/><circle cx="506.6" cy="391.3" r="2.7"/><circle cx="509.9" cy="393.9" r="2.7"/><circle cx="514.5" cy="393.3" r="2.7"/><circle cx="503.9" cy="399.8" r="2.7"/><circle cx="529.6" cy="400.1" r="2.7"/><circle cx="513.1" cy="407.7" r="2.7"/><circle cx="536.8" cy="405.7" r="2.7"/><circle cx="540.7" cy="409.0" r="2.7"/><circle cx="502.0" cy="411.0" r="2.7"/><circle cx="515.8" cy="413.0" r="2.7"/><circle cx="521.0" cy="413.6" r="2.7"/><circle cx="526.9" cy="415.6" r="2.7"/><circle cx="531.5" cy="413.6" r="2.7"/><circle cx="509.2" cy="416.9" r="2.7"/><circle cx="533.5" cy="418.9" r="2.7"/><circle cx="544.7" cy="417.6" r="2.7"/><circle cx="548.6" cy="420.2" r="2.7"/><circle cx="503.9" cy="423.5" r="2.7"/><circle cx="513.1" cy="424.1" r="2.7"/><circle cx="519.7" cy="427.4" r="2.7"/><circle cx="539.4" cy="421.5" r="2.7"/><circle cx="538.1" cy="427.4" r="2.7"/><circle cx="544.7" cy="426.1" r="2.7"/><circle cx="549.9" cy="427.4" r="2.7"/><circle cx="557.8" cy="427.4" r="2.7"/><circle cx="559.8" cy="429.8" r="2.7"/><circle cx="565.7" cy="431.4" r="2.7"/><circle cx="572.0" cy="428.5" r="2.7"/><circle cx="503.9" cy="432.7" r="2.7"/><circle cx="507.9" cy="430.7" r="2.7"/><circle cx="522.3" cy="432.7" r="2.7"/><circle cx="530.2" cy="431.4" r="2.7"/><circle cx="546.6" cy="431.4" r="2.7"/><circle cx="552.6" cy="436.0" r="2.7"/><circle cx="562.4" cy="436.0" r="2.7"/><circle cx="562.8" cy="440.6" r="2.7"/><circle cx="570.9" cy="437.9" r="2.7"/><circle cx="574.9" cy="437.9" r="2.7"/><circle cx="572.3" cy="441.9" r="2.7"/><circle cx="502.0" cy="439.2" r="2.7"/><circle cx="505.3" cy="441.9" r="2.7"/><circle cx="513.1" cy="437.9" r="2.7"/><circle cx="532.8" cy="439.2" r="2.7"/><circle cx="548.0" cy="440.6" r="2.7"/><circle cx="553.9" cy="441.9" r="2.7"/><circle cx="517.1" cy="445.8" r="2.7"/><circle cx="534.2" cy="447.8" r="2.7"/><circle cx="557.2" cy="451.1" r="2.7"/><circle cx="565.0" cy="449.1" r="2.7"/><circle cx="572.9" cy="452.1" r="2.7"/><circle cx="584.7" cy="453.3" r="2.7"/><circle cx="502.6" cy="453.7" r="2.7"/><circle cx="540.7" cy="453.7" r="2.7"/><circle cx="563.1" cy="456.3" r="2.7"/><circle cx="572.3" cy="457.6" r="2.7"/><circle cx="514.5" cy="460.9" r="2.7"/><circle cx="502.6" cy="460.3" r="2.7"/><circle cx="533.5" cy="460.3" r="2.7"/><circle cx="564.4" cy="461.6" r="2.7"/><circle cx="605.0" cy="419.0" r="2.7"/><circle cx="599.8" cy="433.6" r="2.7"/><circle cx="605.6" cy="431.6" r="2.7"/><circle cx="641.0" cy="430.1" r="2.7"/><circle cx="625.4" cy="438.4" r="2.7"/><circle cx="629.3" cy="443.3" r="2.7"/><circle cx="597.2" cy="441.6" r="2.7"/><circle cx="597.2" cy="448.9" r="2.7"/><circle cx="608.0" cy="448.9" r="2.7"/><circle cx="614.5" cy="447.9" r="2.7"/><circle cx="614.5" cy="448.2" r="2.7"/><circle cx="613.2" cy="451.8" r="2.7"/><circle cx="623.9" cy="451.2" r="2.7"/><circle cx="627.1" cy="451.8" r="2.7"/><circle cx="593.9" cy="456.0" r="2.7"/><circle cx="618.4" cy="456.0" r="2.7"/><circle cx="600.4" cy="460.3" r="2.7"/><circle cx="609.5" cy="461.6" r="2.7"/><circle cx="618.6" cy="460.3" r="2.7"/><circle cx="629.1" cy="459.0" r="2.7"/><circle cx="631.4" cy="460.3" r="2.7"/><circle cx="456.6" cy="463.0" r="2.7"/><circle cx="474.4" cy="464.3" r="2.7"/><circle cx="478.3" cy="467.6" r="2.7"/><circle cx="494.1" cy="467.6" r="2.7"/><circle cx="497.4" cy="468.0" r="2.7"/><circle cx="484.9" cy="470.2" r="2.7"/><circle cx="441.1" cy="476.1" r="2.7"/><circle cx="491.7" cy="474.8" r="2.7"/><circle cx="478.6" cy="479.0" r="2.7"/><circle cx="489.5" cy="479.0" r="2.7"/><circle cx="494.1" cy="479.4" r="2.7"/><circle cx="470.7" cy="485.1" r="2.7"/><circle cx="468.5" cy="488.6" r="2.7"/><circle cx="480.3" cy="484.7" r="2.7"/><circle cx="481.6" cy="485.1" r="2.7"/><circle cx="486.2" cy="486.4" r="2.7"/><circle cx="490.8" cy="488.0" r="2.7"/><circle cx="496.7" cy="490.6" r="2.7"/><circle cx="499.3" cy="486.0" r="2.7"/><circle cx="471.1" cy="494.5" r="2.7"/><circle cx="485.9" cy="493.5" r="2.7"/><circle cx="479.6" cy="496.5" r="2.7"/><circle cx="491.5" cy="491.9" r="2.7"/><circle cx="492.5" cy="494.5" r="2.7"/><circle cx="466.2" cy="499.1" r="2.7"/><circle cx="454.7" cy="500.8" r="2.7"/><circle cx="474.4" cy="505.3" r="2.7"/><circle cx="482.3" cy="501.8" r="2.7"/><circle cx="496.1" cy="500.4" r="2.7"/><circle cx="451.4" cy="512.7" r="2.7"/><circle cx="477.7" cy="513.2" r="2.7"/><circle cx="480.9" cy="513.2" r="2.7"/><circle cx="510.5" cy="463.7" r="2.7"/><circle cx="515.8" cy="464.3" r="2.7"/><circle cx="525.6" cy="463.7" r="2.7"/><circle cx="534.2" cy="465.6" r="2.7"/><circle cx="539.4" cy="465.0" r="2.7"/><circle cx="551.9" cy="464.3" r="2.7"/><circle cx="555.2" cy="467.6" r="2.7"/><circle cx="559.1" cy="465.6" r="2.7"/><circle cx="565.7" cy="464.3" r="2.7"/><circle cx="578.8" cy="465.6" r="2.7"/><circle cx="518.4" cy="470.2" r="2.7"/><circle cx="528.2" cy="470.9" r="2.7"/><circle cx="539.4" cy="469.6" r="2.7"/><circle cx="551.9" cy="472.2" r="2.7"/><circle cx="560.4" cy="469.6" r="2.7"/><circle cx="563.1" cy="473.5" r="2.7"/><circle cx="569.0" cy="474.2" r="2.7"/><circle cx="573.6" cy="472.9" r="2.7"/><circle cx="586.1" cy="468.9" r="2.7"/><circle cx="502.6" cy="473.5" r="2.7"/><circle cx="509.9" cy="476.1" r="2.7"/><circle cx="513.1" cy="477.5" r="2.7"/><circle cx="525.0" cy="476.1" r="2.7"/><circle cx="539.4" cy="478.8" r="2.7"/><circle cx="544.7" cy="478.8" r="2.7"/><circle cx="548.6" cy="481.4" r="2.7"/><circle cx="563.1" cy="480.1" r="2.7"/><circle cx="572.3" cy="480.1" r="2.7"/><circle cx="576.9" cy="477.5" r="2.7"/><circle cx="582.1" cy="479.4" r="2.7"/><circle cx="501.3" cy="480.1" r="2.7"/><circle cx="505.3" cy="479.4" r="2.7"/><circle cx="510.5" cy="486.6" r="2.7"/><circle cx="515.8" cy="485.3" r="2.7"/><circle cx="521.7" cy="483.4" r="2.7"/><circle cx="528.2" cy="483.4" r="2.7"/><circle cx="533.5" cy="484.7" r="2.7"/><circle cx="536.8" cy="484.7" r="2.7"/><circle cx="540.7" cy="484.7" r="2.7"/><circle cx="544.7" cy="484.0" r="2.7"/><circle cx="505.3" cy="490.6" r="2.7"/><circle cx="531.1" cy="489.0" r="2.7"/><circle cx="570.9" cy="491.2" r="2.7"/><circle cx="516.4" cy="494.5" r="2.7"/><circle cx="520.4" cy="496.1" r="2.7"/><circle cx="525.0" cy="494.5" r="2.7"/><circle cx="532.8" cy="496.5" r="2.7"/><circle cx="530.5" cy="499.5" r="2.7"/><circle cx="512.5" cy="498.5" r="2.7"/><circle cx="509.5" cy="503.5" r="2.7"/><circle cx="515.5" cy="506.4" r="2.7"/><circle cx="543.4" cy="502.2" r="2.7"/><circle cx="572.3" cy="495.2" r="2.7"/><circle cx="577.5" cy="496.5" r="2.7"/><circle cx="574.2" cy="503.7" r="2.7"/><circle cx="529.6" cy="513.2" r="2.7"/><circle cx="592.5" cy="465.5" r="2.7"/><circle cx="604.6" cy="466.8" r="2.7"/><circle cx="609.1" cy="465.5" r="2.7"/><circle cx="620.5" cy="465.5" r="2.7"/><circle cx="624.3" cy="468.7" r="2.7"/><circle cx="629.4" cy="470.0" r="2.7"/><circle cx="633.8" cy="470.4" r="2.7"/><circle cx="591.3" cy="473.2" r="2.7"/><circle cx="596.4" cy="471.9" r="2.7"/><circle cx="601.4" cy="470.6" r="2.7"/><circle cx="609.1" cy="472.5" r="2.7"/><circle cx="612.9" cy="470.6" r="2.7"/><circle cx="616.7" cy="471.9" r="2.7"/><circle cx="612.9" cy="475.7" r="2.7"/><circle cx="616.7" cy="475.7" r="2.7"/><circle cx="620.5" cy="475.1" r="2.7"/><circle cx="631.3" cy="475.7" r="2.7"/><circle cx="634.5" cy="478.2" r="2.7"/><circle cx="641.4" cy="479.5" r="2.7"/><circle cx="593.8" cy="483.3" r="2.7"/><circle cx="611.6" cy="478.9" r="2.7"/><circle cx="617.9" cy="479.5" r="2.7"/><circle cx="631.9" cy="480.8" r="2.7"/><circle cx="638.3" cy="483.3" r="2.7"/><circle cx="593.8" cy="488.4" r="2.7"/><circle cx="599.5" cy="485.9" r="2.7"/><circle cx="613.5" cy="488.4" r="2.7"/><circle cx="619.2" cy="485.2" r="2.7"/><circle cx="624.3" cy="484.6" r="2.7"/><circle cx="642.1" cy="490.3" r="2.7"/><circle cx="604.6" cy="492.0" r="2.7"/><circle cx="609.1" cy="494.1" r="2.7"/><circle cx="618.6" cy="490.9" r="2.7"/><circle cx="623.0" cy="492.2" r="2.7"/><circle cx="633.2" cy="492.2" r="2.7"/><circle cx="595.1" cy="496.3" r="2.7"/><circle cx="609.1" cy="497.3" r="2.7"/><circle cx="617.7" cy="497.3" r="2.7"/><circle cx="624.5" cy="499.2" r="2.7"/><circle cx="627.5" cy="498.6" r="2.7"/><circle cx="634.5" cy="499.6" r="2.7"/><circle cx="655.4" cy="499.2" r="2.7"/><circle cx="607.8" cy="504.3" r="2.7"/><circle cx="111.5" cy="111.0" r="2.7"/><circle cx="170.1" cy="185.7" r="2.7"/><circle cx="199.9" cy="201.9" r="2.7"/><circle cx="135.2" cy="109.3" r="2.7"/><circle cx="154.4" cy="126.5" r="2.7"/><circle cx="145.2" cy="163.6" r="2.7"/><circle cx="167.7" cy="148.3" r="2.7"/><circle cx="182.9" cy="191.4" r="2.7"/><circle cx="107.8" cy="89.9" r="2.7"/><circle cx="102.2" cy="141.8" r="2.7"/><circle cx="133.8" cy="176.5" r="2.7"/><circle cx="213.3" cy="196.1" r="2.7"/><circle cx="109.2" cy="159.8" r="2.7"/><circle cx="245.4" cy="195.5" r="2.7"/><circle cx="187.2" cy="184.5" r="2.7"/><circle cx="126.0" cy="132.7" r="2.7"/><circle cx="115.6" cy="115.7" r="2.7"/><circle cx="182.0" cy="194.4" r="2.7"/><circle cx="230.9" cy="184.0" r="2.7"/><circle cx="171.2" cy="141.0" r="2.7"/><circle cx="137.0" cy="174.4" r="2.7"/><circle cx="207.1" cy="176.2" r="2.7"/><circle cx="108.2" cy="101.0" r="2.7"/><circle cx="180.0" cy="150.8" r="2.7"/><circle cx="99.0" cy="82.6" r="2.7"/><circle cx="100.7" cy="76.2" r="2.7"/><circle cx="111.9" cy="83.8" r="2.7"/><circle cx="99.0" cy="103.6" r="2.7"/><circle cx="256.1" cy="204.9" r="2.7"/><circle cx="103.7" cy="79.5" r="2.7"/><circle cx="240.9" cy="207.1" r="2.7"/><circle cx="107.4" cy="120.9" r="2.7"/><circle cx="167.1" cy="163.1" r="2.7"/><circle cx="98.4" cy="93.5" r="2.7"/><circle cx="100.1" cy="108.9" r="2.7"/><circle cx="155.5" cy="129.7" r="2.7"/><circle cx="138.6" cy="111.8" r="2.7"/><circle cx="144.2" cy="128.9" r="2.7"/><circle cx="209.7" cy="180.7" r="2.7"/><circle cx="252.9" cy="194.3" r="2.7"/><circle cx="155.2" cy="174.9" r="2.7"/><circle cx="127.5" cy="118.1" r="2.7"/><circle cx="120.7" cy="95.4" r="2.7"/><circle cx="141.7" cy="117.0" r="2.7"/><circle cx="126.5" cy="154.7" r="2.7"/><circle cx="189.9" cy="181.1" r="2.7"/><circle cx="133.3" cy="170.9" r="2.7"/><circle cx="148.3" cy="143.2" r="2.7"/><circle cx="209.6" cy="172.9" r="2.7"/><circle cx="101.1" cy="90.6" r="2.7"/><circle cx="133.7" cy="106.4" r="2.7"/><circle cx="107.2" cy="76.5" r="2.7"/><circle cx="205.8" cy="170.0" r="2.7"/><circle cx="150.0" cy="141.5" r="2.7"/><circle cx="171.2" cy="147.4" r="2.7"/><circle cx="162.3" cy="150.0" r="2.7"/><circle cx="220.5" cy="196.1" r="2.7"/><circle cx="233.4" cy="186.2" r="2.7"/><circle cx="112.2" cy="147.7" r="2.7"/><circle cx="104.5" cy="82.3" r="2.7"/><circle cx="167.0" cy="174.8" r="2.7"/><circle cx="206.3" cy="181.6" r="2.7"/><circle cx="178.8" cy="189.5" r="2.7"/><circle cx="98.9" cy="112.7" r="2.7"/><circle cx="235.4" cy="192.4" r="2.7"/><circle cx="210.1" cy="191.2" r="2.7"/><circle cx="99.0" cy="96.8" r="2.7"/><circle cx="152.2" cy="164.9" r="2.7"/><circle cx="524.8" cy="175.9" r="2.7"/><circle cx="554.5" cy="153.7" r="2.7"/><circle cx="500.9" cy="134.5" r="2.7"/><circle cx="505.0" cy="150.1" r="2.7"/><circle cx="462.4" cy="102.5" r="2.7"/><circle cx="596.3" cy="198.6" r="2.7"/><circle cx="521.1" cy="132.5" r="2.7"/><circle cx="589.8" cy="184.7" r="2.7"/><circle cx="538.4" cy="141.4" r="2.7"/><circle cx="524.5" cy="134.3" r="2.7"/><circle cx="464.4" cy="86.3" r="2.7"/><circle cx="520.7" cy="162.7" r="2.7"/><circle cx="561.3" cy="172.9" r="2.7"/><circle cx="583.9" cy="192.0" r="2.7"/><circle cx="494.7" cy="113.6" r="2.7"/><circle cx="567.8" cy="168.1" r="2.7"/><circle cx="645.2" cy="206.9" r="2.7"/><circle cx="484.1" cy="119.1" r="2.7"/><circle cx="558.1" cy="159.5" r="2.7"/><circle cx="565.5" cy="156.2" r="2.7"/><circle cx="498.1" cy="154.9" r="2.7"/><circle cx="574.7" cy="170.0" r="2.7"/><circle cx="527.5" cy="147.2" r="2.7"/><circle cx="560.3" cy="153.9" r="2.7"/><circle cx="624.4" cy="195.4" r="2.7"/><circle cx="621.2" cy="205.1" r="2.7"/><circle cx="484.1" cy="114.1" r="2.7"/><circle cx="552.7" cy="177.5" r="2.7"/><circle cx="544.6" cy="181.3" r="2.7"/><circle cx="521.2" cy="144.4" r="2.7"/><circle cx="501.8" cy="151.2" r="2.7"/><circle cx="498.7" cy="159.4" r="2.7"/><circle cx="549.6" cy="147.2" r="2.7"/><circle cx="467.4" cy="78.5" r="2.7"/><circle cx="617.1" cy="194.7" r="2.7"/><circle cx="569.1" cy="195.1" r="2.7"/><circle cx="576.3" cy="172.7" r="2.7"/><circle cx="632.0" cy="207.1" r="2.7"/><circle cx="559.2" cy="162.8" r="2.7"/><circle cx="496.7" cy="141.7" r="2.7"/><circle cx="578.8" cy="190.7" r="2.7"/><circle cx="477.0" cy="120.2" r="2.7"/><circle cx="642.5" cy="204.2" r="2.7"/><circle cx="600.7" cy="190.9" r="2.7"/><circle cx="572.6" cy="198.0" r="2.7"/><circle cx="469.7" cy="124.1" r="2.7"/><circle cx="481.0" cy="99.3" r="2.7"/><circle cx="580.7" cy="168.4" r="2.7"/><circle cx="642.3" cy="200.0" r="2.7"/><circle cx="477.5" cy="148.2" r="2.7"/><circle cx="516.5" cy="131.5" r="2.7"/><circle cx="557.8" cy="154.8" r="2.7"/><circle cx="474.2" cy="90.5" r="2.7"/><circle cx="570.1" cy="168.6" r="2.7"/><circle cx="616.9" cy="206.6" r="2.7"/><circle cx="459.5" cy="99.3" r="2.7"/><circle cx="480.4" cy="85.9" r="2.7"/><circle cx="551.0" cy="170.1" r="2.7"/><circle cx="486.5" cy="124.4" r="2.7"/><circle cx="504.4" cy="139.7" r="2.7"/><circle cx="564.3" cy="179.0" r="2.7"/><circle cx="637.3" cy="200.4" r="2.7"/><circle cx="554.7" cy="189.3" r="2.7"/><circle cx="595.0" cy="190.5" r="2.7"/><circle cx="458.8" cy="81.5" r="2.7"/><circle cx="555.8" cy="150.8" r="2.7"/><circle cx="554.1" cy="173.8" r="2.7"/><circle cx="587.1" cy="195.7" r="2.7"/><circle cx="577.8" cy="166.2" r="2.7"/><circle cx="552.9" cy="149.9" r="2.7"/><circle cx="568.8" cy="191.4" r="2.7"/><circle cx="527.9" cy="137.1" r="2.7"/><circle cx="490.5" cy="134.6" r="2.7"/><circle cx="584.6" cy="202.7" r="2.7"/><circle cx="633.7" cy="201.1" r="2.7"/><circle cx="595.2" cy="201.5" r="2.7"/><circle cx="618.5" cy="187.3" r="2.7"/><circle cx="508.5" cy="134.5" r="2.7"/><circle cx="509.8" cy="171.1" r="2.7"/><circle cx="465.0" cy="75.3" r="2.7"/><circle cx="583.2" cy="179.9" r="2.7"/><circle cx="516.4" cy="168.9" r="2.7"/><circle cx="575.9" cy="199.0" r="2.7"/><circle cx="496.7" cy="131.0" r="2.7"/><circle cx="602.8" cy="184.8" r="2.7"/><circle cx="513.4" cy="148.9" r="2.7"/><circle cx="554.9" cy="180.0" r="2.7"/><circle cx="476.5" cy="127.7" r="2.7"/><circle cx="501.6" cy="174.7" r="2.7"/><circle cx="506.8" cy="165.2" r="2.7"/><circle cx="583.0" cy="175.5" r="2.7"/><circle cx="608.7" cy="196.2" r="2.7"/><circle cx="468.5" cy="84.8" r="2.7"/><circle cx="527.3" cy="156.4" r="2.7"/><circle cx="608.4" cy="189.9" r="2.7"/><circle cx="570.5" cy="174.8" r="2.7"/><circle cx="534.0" cy="171.1" r="2.7"/><circle cx="649.4" cy="197.2" r="2.7"/><circle cx="470.9" cy="104.1" r="2.7"/><circle cx="469.9" cy="87.6" r="2.7"/><circle cx="541.3" cy="168.6" r="2.7"/><circle cx="544.0" cy="155.0" r="2.7"/><circle cx="631.2" cy="191.8" r="2.7"/><circle cx="469.0" cy="97.9" r="2.7"/><circle cx="565.3" cy="164.3" r="2.7"/><circle cx="512.7" cy="128.5" r="2.7"/><circle cx="582.4" cy="170.5" r="2.7"/><circle cx="476.8" cy="152.4" r="2.7"/><circle cx="523.7" cy="142.1" r="2.7"/><circle cx="509.5" cy="140.8" r="2.7"/><circle cx="510.2" cy="123.2" r="2.7"/><circle cx="460.5" cy="104.2" r="2.7"/><circle cx="488.8" cy="104.7" r="2.7"/><circle cx="562.2" cy="186.0" r="2.7"/><circle cx="463.4" cy="93.7" r="2.7"/><circle cx="479.1" cy="127.5" r="2.7"/><circle cx="580.3" cy="179.5" r="2.7"/><circle cx="495.5" cy="109.4" r="2.7"/><circle cx="538.7" cy="163.7" r="2.7"/><circle cx="644.3" cy="193.6" r="2.7"/><circle cx="477.2" cy="113.7" r="2.7"/><circle cx="557.6" cy="193.7" r="2.7"/><circle cx="503.3" cy="133.5" r="2.7"/><circle cx="523.2" cy="183.8" r="2.7"/><circle cx="571.9" cy="191.8" r="2.7"/><circle cx="553.2" cy="146.6" r="2.7"/><circle cx="509.9" cy="126.6" r="2.7"/><circle cx="533.7" cy="185.6" r="2.7"/><circle cx="503.6" cy="147.6" r="2.7"/><circle cx="621.1" cy="197.6" r="2.7"/><circle cx="599.3" cy="187.8" r="2.7"/><circle cx="536.6" cy="181.9" r="2.7"/><circle cx="486.8" cy="135.0" r="2.7"/><circle cx="492.6" cy="156.5" r="2.7"/><circle cx="554.0" cy="168.4" r="2.7"/><circle cx="534.4" cy="141.2" r="2.7"/><circle cx="464.9" cy="83.2" r="2.7"/><circle cx="568.8" cy="163.5" r="2.7"/><circle cx="547.3" cy="157.8" r="2.7"/><circle cx="646.4" cy="202.2" r="2.7"/><circle cx="473.3" cy="113.9" r="2.7"/><circle cx="462.7" cy="76.1" r="2.7"/><circle cx="553.8" cy="163.7" r="2.7"/><circle cx="574.1" cy="181.1" r="2.7"/><circle cx="466.6" cy="122.0" r="2.7"/><circle cx="591.1" cy="178.0" r="2.7"/><circle cx="518.8" cy="150.0" r="2.7"/><circle cx="505.5" cy="142.5" r="2.7"/><circle cx="504.2" cy="126.9" r="2.7"/><circle cx="495.6" cy="169.6" r="2.7"/><circle cx="647.3" cy="200.0" r="2.7"/><circle cx="533.5" cy="164.8" r="2.7"/><circle cx="634.6" cy="195.7" r="2.7"/><circle cx="507.7" cy="122.7" r="2.7"/><circle cx="541.2" cy="158.8" r="2.7"/><circle cx="625.9" cy="208.5" r="2.7"/><circle cx="594.0" cy="179.3" r="2.7"/><circle cx="501.5" cy="118.5" r="2.7"/><circle cx="511.6" cy="161.9" r="2.7"/><circle cx="570.3" cy="178.9" r="2.7"/><circle cx="490.5" cy="102.5" r="2.7"/><circle cx="514.4" cy="134.4" r="2.7"/><circle cx="158.7" cy="416.4" r="2.7"/><circle cx="202.6" cy="486.4" r="2.7"/><circle cx="243.6" cy="477.7" r="2.7"/><circle cx="171.9" cy="472.2" r="2.7"/><circle cx="153.6" cy="427.4" r="2.7"/><circle cx="134.7" cy="434.5" r="2.7"/><circle cx="131.6" cy="461.7" r="2.7"/><circle cx="123.8" cy="395.4" r="2.7"/><circle cx="171.7" cy="465.4" r="2.7"/><circle cx="151.4" cy="423.1" r="2.7"/><circle cx="173.4" cy="447.6" r="2.7"/><circle cx="156.8" cy="443.6" r="2.7"/><circle cx="159.4" cy="433.7" r="2.7"/><circle cx="216.0" cy="477.1" r="2.7"/><circle cx="143.3" cy="426.8" r="2.7"/><circle cx="134.2" cy="427.4" r="2.7"/><circle cx="130.5" cy="436.1" r="2.7"/><circle cx="238.2" cy="479.1" r="2.7"/><circle cx="138.1" cy="420.8" r="2.7"/><circle cx="165.3" cy="447.7" r="2.7"/><circle cx="182.0" cy="433.2" r="2.7"/><circle cx="144.6" cy="472.2" r="2.7"/><circle cx="176.1" cy="446.2" r="2.7"/><circle cx="178.1" cy="473.3" r="2.7"/><circle cx="161.0" cy="422.6" r="2.7"/><circle cx="156.3" cy="422.8" r="2.7"/><circle cx="145.5" cy="415.6" r="2.7"/><circle cx="135.0" cy="391.3" r="2.7"/><circle cx="206.7" cy="474.8" r="2.7"/><circle cx="164.6" cy="450.3" r="2.7"/><circle cx="198.0" cy="480.2" r="2.7"/><circle cx="238.8" cy="488.0" r="2.7"/><circle cx="214.5" cy="482.6" r="2.7"/><circle cx="171.0" cy="434.6" r="2.7"/><circle cx="152.1" cy="404.8" r="2.7"/><circle cx="188.2" cy="470.9" r="2.7"/><circle cx="189.8" cy="462.3" r="2.7"/><circle cx="179.2" cy="478.5" r="2.7"/><circle cx="147.0" cy="407.7" r="2.7"/><circle cx="234.7" cy="489.1" r="2.7"/><circle cx="195.0" cy="480.0" r="2.7"/><circle cx="158.8" cy="409.0" r="2.7"/><circle cx="238.1" cy="470.2" r="2.7"/><circle cx="170.3" cy="448.2" r="2.7"/><circle cx="137.8" cy="441.6" r="2.7"/><circle cx="156.3" cy="455.5" r="2.7"/><circle cx="137.0" cy="395.2" r="2.7"/><circle cx="241.6" cy="481.4" r="2.7"/><circle cx="175.7" cy="436.5" r="2.7"/><circle cx="145.4" cy="372.3" r="2.7"/><circle cx="160.3" cy="453.1" r="2.7"/><circle cx="163.0" cy="469.4" r="2.7"/><circle cx="228.7" cy="483.1" r="2.7"/><circle cx="202.8" cy="482.5" r="2.7"/><circle cx="206.2" cy="471.2" r="2.7"/><circle cx="191.3" cy="443.8" r="2.7"/><circle cx="212.8" cy="471.0" r="2.7"/><circle cx="122.7" cy="367.3" r="2.7"/><circle cx="201.9" cy="459.3" r="2.7"/><circle cx="122.9" cy="385.2" r="2.7"/><circle cx="162.4" cy="434.0" r="2.7"/><circle cx="154.8" cy="440.5" r="2.7"/><circle cx="255.9" cy="481.6" r="2.7"/><circle cx="141.9" cy="392.7" r="2.7"/><circle cx="205.0" cy="481.7" r="2.7"/><circle cx="145.5" cy="400.2" r="2.7"/><circle cx="151.1" cy="468.5" r="2.7"/><circle cx="126.9" cy="365.6" r="2.7"/><circle cx="216.7" cy="486.8" r="2.7"/><circle cx="226.2" cy="474.2" r="2.7"/><circle cx="141.3" cy="456.1" r="2.7"/><circle cx="172.1" cy="476.7" r="2.7"/><circle cx="182.4" cy="467.1" r="2.7"/><circle cx="193.6" cy="461.2" r="2.7"/><circle cx="175.7" cy="472.2" r="2.7"/><circle cx="190.1" cy="476.7" r="2.7"/><circle cx="132.4" cy="385.3" r="2.7"/><circle cx="207.3" cy="480.9" r="2.7"/><circle cx="244.4" cy="480.0" r="2.7"/><circle cx="135.9" cy="372.4" r="2.7"/><circle cx="144.8" cy="467.9" r="2.7"/><circle cx="140.6" cy="467.9" r="2.7"/><circle cx="142.4" cy="410.1" r="2.7"/><circle cx="195.9" cy="470.5" r="2.7"/><circle cx="132.0" cy="397.9" r="2.7"/><circle cx="172.1" cy="423.9" r="2.7"/><circle cx="175.1" cy="452.5" r="2.7"/><circle cx="223.9" cy="477.2" r="2.7"/><circle cx="209.0" cy="474.8" r="2.7"/><circle cx="130.2" cy="418.2" r="2.7"/><circle cx="250.5" cy="491.8" r="2.7"/><circle cx="139.2" cy="371.0" r="2.7"/><circle cx="160.7" cy="473.7" r="2.7"/><circle cx="189.4" cy="456.6" r="2.7"/><circle cx="198.7" cy="465.3" r="2.7"/><circle cx="152.2" cy="420.5" r="2.7"/><circle cx="242.6" cy="468.5" r="2.7"/><circle cx="177.7" cy="455.2" r="2.7"/><circle cx="182.1" cy="436.3" r="2.7"/><circle cx="155.4" cy="430.7" r="2.7"/><circle cx="178.1" cy="436.7" r="2.7"/><circle cx="145.4" cy="440.8" r="2.7"/><circle cx="152.5" cy="452.4" r="2.7"/><circle cx="127.8" cy="428.2" r="2.7"/><circle cx="244.5" cy="487.7" r="2.7"/><circle cx="232.7" cy="467.9" r="2.7"/><circle cx="269.5" cy="462.1" r="2.7"/><circle cx="229.0" cy="457.0" r="2.7"/><circle cx="259.5" cy="485.2" r="2.7"/><circle cx="256.7" cy="485.4" r="2.7"/><circle cx="273.8" cy="485.6" r="2.7"/><circle cx="257.6" cy="469.9" r="2.7"/><circle cx="258.9" cy="488.9" r="2.7"/><circle cx="249.3" cy="488.5" r="2.7"/><circle cx="260.5" cy="481.9" r="2.7"/><circle cx="226.1" cy="478.8" r="2.7"/><circle cx="272.3" cy="462.7" r="2.7"/><circle cx="247.7" cy="463.3" r="2.7"/><circle cx="485.9" cy="358.7" r="2.7"/><circle cx="495.1" cy="402.1" r="2.7"/><circle cx="496.4" cy="436.1" r="2.7"/><circle cx="516.4" cy="422.3" r="2.7"/><circle cx="539.4" cy="430.5" r="2.7"/><circle cx="496.0" cy="423.9" r="2.7"/><circle cx="481.6" cy="423.3" r="2.7"/><circle cx="573.2" cy="476.8" r="2.7"/><circle cx="549.8" cy="457.5" r="2.7"/><circle cx="513.0" cy="416.2" r="2.7"/><circle cx="482.5" cy="364.0" r="2.7"/><circle cx="494.6" cy="416.1" r="2.7"/><circle cx="475.1" cy="356.7" r="2.7"/><circle cx="551.6" cy="461.7" r="2.7"/><circle cx="545.5" cy="463.7" r="2.7"/><circle cx="519.8" cy="416.9" r="2.7"/><circle cx="515.1" cy="439.8" r="2.7"/><circle cx="475.8" cy="380.0" r="2.7"/><circle cx="480.0" cy="390.4" r="2.7"/><circle cx="504.1" cy="396.2" r="2.7"/><circle cx="496.6" cy="398.7" r="2.7"/><circle cx="560.1" cy="442.5" r="2.7"/><circle cx="508.9" cy="434.5" r="2.7"/><circle cx="481.1" cy="354.9" r="2.7"/><circle cx="484.2" cy="420.1" r="2.7"/><circle cx="478.4" cy="367.2" r="2.7"/><circle cx="570.9" cy="454.4" r="2.7"/><circle cx="501.1" cy="435.4" r="2.7"/><circle cx="543.2" cy="474.0" r="2.7"/><circle cx="481.4" cy="404.0" r="2.7"/><circle cx="569.5" cy="468.7" r="2.7"/><circle cx="525.8" cy="431.3" r="2.7"/><circle cx="540.3" cy="449.1" r="2.7"/><circle cx="510.8" cy="401.5" r="2.7"/><circle cx="559.7" cy="461.9" r="2.7"/><circle cx="509.3" cy="457.3" r="2.7"/><circle cx="474.6" cy="396.2" r="2.7"/><circle cx="474.1" cy="387.3" r="2.7"/><circle cx="529.3" cy="427.9" r="2.7"/><circle cx="479.0" cy="397.9" r="2.7"/><circle cx="544.7" cy="440.6" r="2.7"/><circle cx="516.7" cy="403.8" r="2.7"/><circle cx="475.7" cy="400.0" r="2.7"/><circle cx="531.5" cy="448.2" r="2.7"/><circle cx="496.2" cy="411.9" r="2.7"/><circle cx="536.5" cy="463.0" r="2.7"/><circle cx="559.5" cy="449.1" r="2.7"/><circle cx="566.3" cy="455.9" r="2.7"/><circle cx="516.9" cy="457.5" r="2.7"/><circle cx="532.8" cy="435.6" r="2.7"/><circle cx="480.8" cy="408.5" r="2.7"/><circle cx="491.6" cy="381.3" r="2.7"/><circle cx="524.5" cy="446.9" r="2.7"/><circle cx="549.9" cy="474.0" r="2.7"/><circle cx="482.9" cy="372.3" r="2.7"/><circle cx="533.6" cy="431.8" r="2.7"/><circle cx="522.0" cy="450.9" r="2.7"/><circle cx="487.3" cy="408.8" r="2.7"/><circle cx="484.5" cy="381.1" r="2.7"/><circle cx="547.0" cy="446.3" r="2.7"/><circle cx="566.0" cy="469.1" r="2.7"/><circle cx="476.2" cy="362.0" r="2.7"/><circle cx="554.6" cy="462.7" r="2.7"/><circle cx="487.2" cy="379.0" r="2.7"/><circle cx="564.9" cy="445.0" r="2.7"/><circle cx="514.8" cy="399.6" r="2.7"/><circle cx="493.6" cy="366.2" r="2.7"/><circle cx="478.2" cy="356.3" r="2.7"/><circle cx="502.6" cy="382.8" r="2.7"/><circle cx="491.4" cy="410.7" r="2.7"/><circle cx="537.9" cy="436.7" r="2.7"/><circle cx="506.0" cy="407.7" r="2.7"/><circle cx="477.1" cy="408.5" r="2.7"/><circle cx="556.2" cy="438.2" r="2.7"/><circle cx="506.3" cy="451.8" r="2.7"/><circle cx="473.6" cy="363.0" r="2.7"/><circle cx="493.4" cy="389.9" r="2.7"/><circle cx="500.1" cy="375.3" r="2.7"/><circle cx="476.6" cy="390.5" r="2.7"/><circle cx="504.0" cy="426.8" r="2.7"/><circle cx="550.5" cy="434.0" r="2.7"/><circle cx="475.4" cy="376.4" r="2.7"/><circle cx="508.5" cy="421.9" r="2.7"/><circle cx="559.9" cy="473.0" r="2.7"/><circle cx="544.0" cy="431.8" r="2.7"/><circle cx="565.8" cy="452.6" r="2.7"/><circle cx="551.5" cy="476.2" r="2.7"/><circle cx="496.0" cy="377.0" r="2.7"/><circle cx="567.8" cy="459.7" r="2.7"/><circle cx="480.8" cy="369.3" r="2.7"/><circle cx="476.6" cy="372.7" r="2.7"/><circle cx="489.4" cy="427.4" r="2.7"/><circle cx="472.6" cy="359.9" r="2.7"/><circle cx="522.8" cy="461.2" r="2.7"/><circle cx="551.4" cy="469.8" r="2.7"/><circle cx="506.3" cy="402.4" r="2.7"/><circle cx="588.5" cy="474.6" r="2.7"/><circle cx="639.2" cy="476.9" r="2.7"/><circle cx="620.4" cy="480.2" r="2.7"/><circle cx="599.2" cy="494.0" r="2.7"/><circle cx="588.9" cy="486.1" r="2.7"/><circle cx="612.9" cy="491.4" r="2.7"/><circle cx="578.0" cy="469.0" r="2.7"/><circle cx="584.0" cy="482.9" r="2.7"/><circle cx="611.8" cy="486.5" r="2.7"/><circle cx="604.7" cy="488.1" r="2.7"/><circle cx="595.5" cy="458.2" r="2.7"/><circle cx="609.3" cy="468.7" r="2.7"/><circle cx="637.9" cy="489.7" r="2.7"/><circle cx="589.4" cy="463.0" r="2.7"/><circle cx="638.7" cy="473.4" r="2.7"/><circle cx="624.9" cy="464.5" r="2.7"/><circle cx="602.1" cy="483.8" r="2.7"/><circle cx="586.2" cy="465.1" r="2.7"/><circle cx="631.3" cy="489.9" r="2.7"/><circle cx="587.0" cy="489.2" r="2.7"/><circle cx="597.2" cy="489.7" r="2.7"/><circle cx="635.8" cy="474.9" r="2.7"/><circle cx="605.8" cy="485.3" r="2.7"/><circle cx="604.0" cy="459.0" r="2.7"/><circle cx="586.4" cy="481.7" r="2.7"/><circle cx="583.0" cy="457.8" r="2.7"/><circle cx="605.7" cy="482.2" r="2.7"/><circle cx="586.4" cy="460.4" r="2.7"/><circle cx="592.7" cy="461.1" r="2.7"/><circle cx="608.5" cy="484.8" r="2.7"/><circle cx="627.6" cy="479.7" r="2.7"/><circle cx="591.6" cy="490.1" r="2.7"/></g><g fill="#ebbd3c" fill-opacity="0.72"><circle cx="99.0" cy="40.2" r="2.7"/><circle cx="99.8" cy="55.3" r="2.7"/><circle cx="89.9" cy="72.6" r="2.7"/><circle cx="115.5" cy="76.3" r="2.7"/><circle cx="123.4" cy="95.0" r="2.7"/><circle cx="102.7" cy="94.7" r="2.7"/><circle cx="124.4" cy="101.9" r="2.7"/><circle cx="119.1" cy="103.3" r="2.7"/><circle cx="127.6" cy="114.5" r="2.7"/><circle cx="135.8" cy="115.9" r="2.7"/><circle cx="144.1" cy="119.1" r="2.7"/><circle cx="126.3" cy="123.1" r="2.7"/><circle cx="130.3" cy="121.8" r="2.7"/><circle cx="136.8" cy="121.8" r="2.7"/><circle cx="112.5" cy="127.7" r="2.7"/><circle cx="117.4" cy="133.6" r="2.7"/><circle cx="106.0" cy="135.2" r="2.7"/><circle cx="109.2" cy="134.2" r="2.7"/><circle cx="136.8" cy="137.5" r="2.7"/><circle cx="109.2" cy="138.2" r="2.7"/><circle cx="126.3" cy="137.5" r="2.7"/><circle cx="123.7" cy="142.8" r="2.7"/><circle cx="125.0" cy="149.4" r="2.7"/><circle cx="145.4" cy="147.4" r="2.7"/><circle cx="116.5" cy="152.0" r="2.7"/><circle cx="122.4" cy="152.0" r="2.7"/><circle cx="135.5" cy="153.3" r="2.7"/><circle cx="127.6" cy="158.3" r="2.7"/><circle cx="138.1" cy="156.6" r="2.7"/><circle cx="145.4" cy="156.6" r="2.7"/><circle cx="73.1" cy="169.7" r="2.7"/><circle cx="88.9" cy="173.0" r="2.7"/><circle cx="94.1" cy="173.0" r="2.7"/><circle cx="91.5" cy="178.3" r="2.7"/><circle cx="108.6" cy="167.8" r="2.7"/><circle cx="123.0" cy="163.8" r="2.7"/><circle cx="136.8" cy="163.8" r="2.7"/><circle cx="129.6" cy="167.1" r="2.7"/><circle cx="117.8" cy="173.0" r="2.7"/><circle cx="122.4" cy="175.0" r="2.7"/><circle cx="140.8" cy="171.7" r="2.7"/><circle cx="111.9" cy="174.3" r="2.7"/><circle cx="152.6" cy="130.7" r="2.7"/><circle cx="159.8" cy="129.4" r="2.7"/><circle cx="154.6" cy="146.1" r="2.7"/><circle cx="150.6" cy="148.0" r="2.7"/><circle cx="175.6" cy="142.1" r="2.7"/><circle cx="174.9" cy="145.4" r="2.7"/><circle cx="177.6" cy="145.4" r="2.7"/><circle cx="198.2" cy="156.3" r="2.7"/><circle cx="165.1" cy="154.9" r="2.7"/><circle cx="185.4" cy="162.5" r="2.7"/><circle cx="183.5" cy="163.8" r="2.7"/><circle cx="195.3" cy="163.8" r="2.7"/><circle cx="211.1" cy="163.2" r="2.7"/><circle cx="164.4" cy="163.2" r="2.7"/><circle cx="180.2" cy="167.1" r="2.7"/><circle cx="204.5" cy="174.3" r="2.7"/><circle cx="230.8" cy="167.1" r="2.7"/><circle cx="230.8" cy="174.3" r="2.7"/><circle cx="152.6" cy="178.9" r="2.7"/><circle cx="211.1" cy="177.6" r="2.7"/><circle cx="225.5" cy="178.9" r="2.7"/><circle cx="80.2" cy="186.9" r="2.7"/><circle cx="104.2" cy="191.3" r="2.7"/><circle cx="114.7" cy="188.7" r="2.7"/><circle cx="112.8" cy="194.2" r="2.7"/><circle cx="115.8" cy="194.2" r="2.7"/><circle cx="137.2" cy="186.3" r="2.7"/><circle cx="137.8" cy="188.3" r="2.7"/><circle cx="145.1" cy="186.9" r="2.7"/><circle cx="145.1" cy="190.2" r="2.7"/><circle cx="135.2" cy="194.2" r="2.7"/><circle cx="137.8" cy="197.5" r="2.7"/><circle cx="117.1" cy="201.8" r="2.7"/><circle cx="123.7" cy="207.1" r="2.7"/><circle cx="144.4" cy="206.3" r="2.7"/><circle cx="129.2" cy="218.6" r="2.7"/><circle cx="135.6" cy="212.7" r="2.7"/><circle cx="98.9" cy="223.0" r="2.7"/><circle cx="104.8" cy="221.6" r="2.7"/><circle cx="106.8" cy="230.9" r="2.7"/><circle cx="136.9" cy="235.1" r="2.7"/><circle cx="146.1" cy="227.4" r="2.7"/><circle cx="100.0" cy="233.8" r="2.7"/><circle cx="107.9" cy="242.6" r="2.7"/><circle cx="183.6" cy="184.3" r="2.7"/><circle cx="190.2" cy="185.0" r="2.7"/><circle cx="164.5" cy="190.5" r="2.7"/><circle cx="169.1" cy="190.9" r="2.7"/><circle cx="179.7" cy="192.9" r="2.7"/><circle cx="205.0" cy="185.0" r="2.7"/><circle cx="204.7" cy="189.6" r="2.7"/><circle cx="206.7" cy="190.9" r="2.7"/><circle cx="219.0" cy="185.0" r="2.7"/><circle cx="150.6" cy="197.5" r="2.7"/><circle cx="159.2" cy="198.8" r="2.7"/><circle cx="164.5" cy="198.2" r="2.7"/><circle cx="204.7" cy="197.5" r="2.7"/><circle cx="223.9" cy="196.6" r="2.7"/><circle cx="153.9" cy="204.8" r="2.7"/><circle cx="157.2" cy="204.5" r="2.7"/><circle cx="172.4" cy="201.5" r="2.7"/><circle cx="197.5" cy="207.4" r="2.7"/><circle cx="227.8" cy="204.8" r="2.7"/><circle cx="236.7" cy="203.4" r="2.7"/><circle cx="157.2" cy="209.4" r="2.7"/><circle cx="148.7" cy="212.7" r="2.7"/><circle cx="169.8" cy="216.9" r="2.7"/><circle cx="203.7" cy="223.5" r="2.7"/><circle cx="153.9" cy="224.5" r="2.7"/><circle cx="149.6" cy="227.4" r="2.7"/><circle cx="169.8" cy="242.8" r="2.7"/><circle cx="271.0" cy="185.6" r="2.7"/><circle cx="271.0" cy="193.5" r="2.7"/><circle cx="271.0" cy="196.2" r="2.7"/><circle cx="271.0" cy="198.8" r="2.7"/><circle cx="242.6" cy="200.1" r="2.7"/><circle cx="265.7" cy="200.8" r="2.7"/><circle cx="238.7" cy="204.1" r="2.7"/><circle cx="248.6" cy="205.4" r="2.7"/><circle cx="271.0" cy="213.3" r="2.7"/><circle cx="266.4" cy="216.4" r="2.7"/><circle cx="242.0" cy="219.9" r="2.7"/><circle cx="261.8" cy="227.4" r="2.7"/><circle cx="450.7" cy="72.4" r="2.7"/><circle cx="449.4" cy="81.2" r="2.7"/><circle cx="471.0" cy="81.0" r="2.7"/><circle cx="476.3" cy="82.9" r="2.7"/><circle cx="477.6" cy="85.8" r="2.7"/><circle cx="473.3" cy="98.7" r="2.7"/><circle cx="478.3" cy="101.3" r="2.7"/><circle cx="481.5" cy="103.9" r="2.7"/><circle cx="484.8" cy="106.6" r="2.7"/><circle cx="452.0" cy="107.2" r="2.7"/><circle cx="474.3" cy="106.6" r="2.7"/><circle cx="452.0" cy="109.1" r="2.7"/><circle cx="462.5" cy="108.7" r="2.7"/><circle cx="470.4" cy="115.2" r="2.7"/><circle cx="484.8" cy="110.0" r="2.7"/><circle cx="480.9" cy="117.2" r="2.7"/><circle cx="488.8" cy="119.8" r="2.7"/><circle cx="473.0" cy="127.1" r="2.7"/><circle cx="471.0" cy="127.7" r="2.7"/><circle cx="482.2" cy="122.5" r="2.7"/><circle cx="490.1" cy="123.8" r="2.7"/><circle cx="492.7" cy="122.5" r="2.7"/><circle cx="462.5" cy="131.0" r="2.7"/><circle cx="468.4" cy="131.0" r="2.7"/><circle cx="484.8" cy="129.0" r="2.7"/><circle cx="493.4" cy="131.6" r="2.7"/><circle cx="470.4" cy="137.6" r="2.7"/><circle cx="475.6" cy="137.6" r="2.7"/><circle cx="495.3" cy="136.9" r="2.7"/><circle cx="482.2" cy="137.6" r="2.7"/><circle cx="476.3" cy="144.8" r="2.7"/><circle cx="493.4" cy="145.4" r="2.7"/><circle cx="473.0" cy="153.3" r="2.7"/><circle cx="475.6" cy="155.3" r="2.7"/><circle cx="490.1" cy="153.3" r="2.7"/><circle cx="488.1" cy="156.6" r="2.7"/><circle cx="492.1" cy="160.6" r="2.7"/><circle cx="492.7" cy="169.1" r="2.7"/><circle cx="467.8" cy="175.0" r="2.7"/><circle cx="488.8" cy="173.7" r="2.7"/><circle cx="484.8" cy="179.6" r="2.7"/><circle cx="503.2" cy="122.5" r="2.7"/><circle cx="518.3" cy="124.4" r="2.7"/><circle cx="506.5" cy="129.7" r="2.7"/><circle cx="519.0" cy="133.6" r="2.7"/><circle cx="530.4" cy="133.2" r="2.7"/><circle cx="534.9" cy="133.2" r="2.7"/><circle cx="503.2" cy="136.9" r="2.7"/><circle cx="496.7" cy="144.8" r="2.7"/><circle cx="502.6" cy="144.8" r="2.7"/><circle cx="506.5" cy="146.8" r="2.7"/><circle cx="519.6" cy="146.8" r="2.7"/><circle cx="524.2" cy="145.4" r="2.7"/><circle cx="525.6" cy="150.0" r="2.7"/><circle cx="534.8" cy="148.1" r="2.7"/><circle cx="505.9" cy="154.0" r="2.7"/><circle cx="514.4" cy="152.0" r="2.7"/><circle cx="514.4" cy="155.3" r="2.7"/><circle cx="513.1" cy="159.2" r="2.7"/><circle cx="523.6" cy="159.9" r="2.7"/><circle cx="527.5" cy="161.2" r="2.7"/><circle cx="531.5" cy="159.9" r="2.7"/><circle cx="534.8" cy="158.6" r="2.7"/><circle cx="548.6" cy="161.9" r="2.7"/><circle cx="517.0" cy="165.8" r="2.7"/><circle cx="531.5" cy="166.5" r="2.7"/><circle cx="499.3" cy="169.8" r="2.7"/><circle cx="498.6" cy="174.4" r="2.7"/><circle cx="513.1" cy="173.7" r="2.7"/><circle cx="517.7" cy="175.0" r="2.7"/><circle cx="523.6" cy="172.4" r="2.7"/><circle cx="539.4" cy="171.1" r="2.7"/><circle cx="543.3" cy="175.0" r="2.7"/><circle cx="535.4" cy="178.3" r="2.7"/><circle cx="538.7" cy="178.3" r="2.7"/><circle cx="501.3" cy="178.9" r="2.7"/><circle cx="530.2" cy="182.2" r="2.7"/><circle cx="624.8" cy="158.3" r="2.7"/><circle cx="483.5" cy="183.7" r="2.7"/><circle cx="440.8" cy="191.5" r="2.7"/><circle cx="455.7" cy="191.1" r="2.7"/><circle cx="464.5" cy="197.2" r="2.7"/><circle cx="489.4" cy="192.9" r="2.7"/><circle cx="486.8" cy="193.5" r="2.7"/><circle cx="495.3" cy="204.7" r="2.7"/><circle cx="478.3" cy="212.2" r="2.7"/><circle cx="491.1" cy="214.9" r="2.7"/><circle cx="454.4" cy="215.2" r="2.7"/><circle cx="462.5" cy="218.5" r="2.7"/><circle cx="461.8" cy="229.6" r="2.7"/><circle cx="464.5" cy="234.5" r="2.7"/><circle cx="471.0" cy="235.8" r="2.7"/><circle cx="458.3" cy="239.2" r="2.7"/><circle cx="472.1" cy="242.1" r="2.7"/><circle cx="489.4" cy="240.4" r="2.7"/><circle cx="498.6" cy="184.3" r="2.7"/><circle cx="503.9" cy="185.0" r="2.7"/><circle cx="500.6" cy="188.3" r="2.7"/><circle cx="507.6" cy="188.3" r="2.7"/><circle cx="519.0" cy="192.5" r="2.7"/><circle cx="538.0" cy="185.0" r="2.7"/><circle cx="557.8" cy="186.9" r="2.7"/><circle cx="561.0" cy="190.2" r="2.7"/><circle cx="546.6" cy="188.9" r="2.7"/><circle cx="549.9" cy="189.6" r="2.7"/><circle cx="532.1" cy="194.8" r="2.7"/><circle cx="501.9" cy="196.1" r="2.7"/><circle cx="505.2" cy="199.4" r="2.7"/><circle cx="527.5" cy="198.8" r="2.7"/><circle cx="539.4" cy="200.1" r="2.7"/><circle cx="584.0" cy="196.8" r="2.7"/><circle cx="501.3" cy="206.0" r="2.7"/><circle cx="502.6" cy="210.6" r="2.7"/><circle cx="562.4" cy="210.6" r="2.7"/><circle cx="568.3" cy="216.9" r="2.7"/><circle cx="585.3" cy="218.5" r="2.7"/><circle cx="522.0" cy="215.8" r="2.7"/><circle cx="529.9" cy="219.5" r="2.7"/><circle cx="543.6" cy="221.1" r="2.7"/><circle cx="517.3" cy="229.9" r="2.7"/><circle cx="515.1" cy="239.5" r="2.7"/><circle cx="512.4" cy="242.1" r="2.7"/><circle cx="535.4" cy="238.8" r="2.7"/><circle cx="538.0" cy="240.4" r="2.7"/><circle cx="589.3" cy="189.6" r="2.7"/><circle cx="589.9" cy="194.2" r="2.7"/><circle cx="616.5" cy="191.5" r="2.7"/><circle cx="634.6" cy="191.5" r="2.7"/><circle cx="643.8" cy="196.8" r="2.7"/><circle cx="600.5" cy="202.7" r="2.7"/><circle cx="595.5" cy="204.7" r="2.7"/><circle cx="624.8" cy="202.1" r="2.7"/><circle cx="634.6" cy="209.3" r="2.7"/><circle cx="654.3" cy="203.0" r="2.7"/><circle cx="607.0" cy="211.2" r="2.7"/><circle cx="631.3" cy="214.5" r="2.7"/><circle cx="637.9" cy="214.8" r="2.7"/><circle cx="642.8" cy="213.5" r="2.7"/><circle cx="611.6" cy="214.8" r="2.7"/><circle cx="588.0" cy="218.7" r="2.7"/><circle cx="625.2" cy="222.0" r="2.7"/><circle cx="111.0" cy="348.4" r="2.7"/><circle cx="110.0" cy="357.0" r="2.7"/><circle cx="130.7" cy="357.0" r="2.7"/><circle cx="136.3" cy="358.0" r="2.7"/><circle cx="135.5" cy="361.2" r="2.7"/><circle cx="129.4" cy="362.9" r="2.7"/><circle cx="136.6" cy="368.2" r="2.7"/><circle cx="132.6" cy="374.1" r="2.7"/><circle cx="137.2" cy="376.0" r="2.7"/><circle cx="139.2" cy="378.7" r="2.7"/><circle cx="142.5" cy="382.6" r="2.7"/><circle cx="111.4" cy="382.6" r="2.7"/><circle cx="123.4" cy="382.6" r="2.7"/><circle cx="131.3" cy="388.0" r="2.7"/><circle cx="138.5" cy="391.3" r="2.7"/><circle cx="145.1" cy="391.3" r="2.7"/><circle cx="140.5" cy="396.5" r="2.7"/><circle cx="148.4" cy="397.8" r="2.7"/><circle cx="123.4" cy="404.4" r="2.7"/><circle cx="128.7" cy="403.1" r="2.7"/><circle cx="135.9" cy="401.8" r="2.7"/><circle cx="143.1" cy="402.4" r="2.7"/><circle cx="147.1" cy="404.4" r="2.7"/><circle cx="149.7" cy="405.1" r="2.7"/><circle cx="129.4" cy="410.3" r="2.7"/><circle cx="135.3" cy="410.3" r="2.7"/><circle cx="141.8" cy="417.5" r="2.7"/><circle cx="132.6" cy="425.4" r="2.7"/><circle cx="135.0" cy="421.5" r="2.7"/><circle cx="139.5" cy="428.7" r="2.7"/><circle cx="117.1" cy="446.4" r="2.7"/><circle cx="151.0" cy="438.6" r="2.7"/><circle cx="137.2" cy="449.1" r="2.7"/><circle cx="147.1" cy="450.4" r="2.7"/><circle cx="145.8" cy="454.3" r="2.7"/><circle cx="99.8" cy="460.9" r="2.7"/><circle cx="153.7" cy="400.5" r="2.7"/><circle cx="167.5" cy="396.8" r="2.7"/><circle cx="163.5" cy="406.8" r="2.7"/><circle cx="172.7" cy="406.4" r="2.7"/><circle cx="186.1" cy="406.4" r="2.7"/><circle cx="156.9" cy="418.8" r="2.7"/><circle cx="162.9" cy="419.5" r="2.7"/><circle cx="168.1" cy="421.5" r="2.7"/><circle cx="176.6" cy="420.8" r="2.7"/><circle cx="161.5" cy="425.4" r="2.7"/><circle cx="170.1" cy="424.8" r="2.7"/><circle cx="171.4" cy="429.4" r="2.7"/><circle cx="162.9" cy="430.7" r="2.7"/><circle cx="178.6" cy="432.0" r="2.7"/><circle cx="156.9" cy="438.6" r="2.7"/><circle cx="173.4" cy="439.2" r="2.7"/><circle cx="153.7" cy="443.8" r="2.7"/><circle cx="158.9" cy="445.1" r="2.7"/><circle cx="168.8" cy="443.8" r="2.7"/><circle cx="177.3" cy="443.8" r="2.7"/><circle cx="192.4" cy="447.1" r="2.7"/><circle cx="180.6" cy="448.4" r="2.7"/><circle cx="172.7" cy="450.4" r="2.7"/><circle cx="160.9" cy="449.1" r="2.7"/><circle cx="159.6" cy="456.9" r="2.7"/><circle cx="166.1" cy="458.3" r="2.7"/><circle cx="211.5" cy="458.3" r="2.7"/><circle cx="235.8" cy="459.6" r="2.7"/><circle cx="185.8" cy="459.6" r="2.7"/><circle cx="256.4" cy="430.3" r="2.7"/><circle cx="252.1" cy="460.5" r="2.7"/><circle cx="265.4" cy="460.5" r="2.7"/><circle cx="99.8" cy="462.1" r="2.7"/><circle cx="128.0" cy="462.3" r="2.7"/><circle cx="149.7" cy="463.6" r="2.7"/><circle cx="118.2" cy="467.3" r="2.7"/><circle cx="116.2" cy="484.6" r="2.7"/><circle cx="135.9" cy="481.8" r="2.7"/><circle cx="148.1" cy="480.7" r="2.7"/><circle cx="114.0" cy="488.9" r="2.7"/><circle cx="120.5" cy="487.3" r="2.7"/><circle cx="120.2" cy="498.8" r="2.7"/><circle cx="124.8" cy="503.0" r="2.7"/><circle cx="130.7" cy="504.4" r="2.7"/><circle cx="118.8" cy="507.2" r="2.7"/><circle cx="131.3" cy="510.3" r="2.7"/><circle cx="151.0" cy="508.3" r="2.7"/><circle cx="156.9" cy="464.9" r="2.7"/><circle cx="163.5" cy="463.0" r="2.7"/><circle cx="174.7" cy="464.3" r="2.7"/><circle cx="184.5" cy="463.0" r="2.7"/><circle cx="208.2" cy="461.7" r="2.7"/><circle cx="216.1" cy="462.3" r="2.7"/><circle cx="220.3" cy="467.3" r="2.7"/><circle cx="235.8" cy="464.9" r="2.7"/><circle cx="165.5" cy="469.5" r="2.7"/><circle cx="170.7" cy="468.9" r="2.7"/><circle cx="202.9" cy="464.9" r="2.7"/><circle cx="231.8" cy="474.1" r="2.7"/><circle cx="235.8" cy="472.8" r="2.7"/><circle cx="164.2" cy="475.5" r="2.7"/><circle cx="203.6" cy="474.1" r="2.7"/><circle cx="160.9" cy="484.4" r="2.7"/><circle cx="189.1" cy="485.3" r="2.7"/><circle cx="185.2" cy="488.9" r="2.7"/><circle cx="218.0" cy="480.4" r="2.7"/><circle cx="223.9" cy="486.6" r="2.7"/><circle cx="224.6" cy="487.9" r="2.7"/><circle cx="161.5" cy="498.4" r="2.7"/><circle cx="153.7" cy="508.3" r="2.7"/><circle cx="161.5" cy="510.3" r="2.7"/><circle cx="171.1" cy="508.6" r="2.7"/><circle cx="181.2" cy="508.0" r="2.7"/><circle cx="197.7" cy="507.2" r="2.7"/><circle cx="252.3" cy="462.2" r="2.7"/><circle cx="265.3" cy="462.2" r="2.7"/><circle cx="273.4" cy="467.0" r="2.7"/><circle cx="282.7" cy="473.2" r="2.7"/><circle cx="258.5" cy="472.2" r="2.7"/><circle cx="261.0" cy="477.1" r="2.7"/><circle cx="266.0" cy="479.6" r="2.7"/><circle cx="244.9" cy="484.6" r="2.7"/><circle cx="256.6" cy="490.8" r="2.7"/><circle cx="270.3" cy="484.6" r="2.7"/><circle cx="462.6" cy="350.4" r="2.7"/><circle cx="461.2" cy="359.0" r="2.7"/><circle cx="490.1" cy="360.3" r="2.7"/><circle cx="489.5" cy="363.6" r="2.7"/><circle cx="490.1" cy="370.2" r="2.7"/><circle cx="494.1" cy="370.8" r="2.7"/><circle cx="484.9" cy="377.4" r="2.7"/><circle cx="492.1" cy="378.7" r="2.7"/><circle cx="462.8" cy="384.6" r="2.7"/><circle cx="477.0" cy="384.6" r="2.7"/><circle cx="480.9" cy="384.6" r="2.7"/><circle cx="497.4" cy="384.6" r="2.7"/><circle cx="483.6" cy="391.9" r="2.7"/><circle cx="486.2" cy="390.0" r="2.7"/><circle cx="492.1" cy="393.3" r="2.7"/><circle cx="474.6" cy="406.7" r="2.7"/><circle cx="484.2" cy="403.8" r="2.7"/><circle cx="487.5" cy="399.2" r="2.7"/><circle cx="494.1" cy="399.8" r="2.7"/><circle cx="496.1" cy="407.7" r="2.7"/><circle cx="482.3" cy="413.0" r="2.7"/><circle cx="489.9" cy="413.0" r="2.7"/><circle cx="495.4" cy="419.5" r="2.7"/><circle cx="486.2" cy="428.1" r="2.7"/><circle cx="489.5" cy="424.1" r="2.7"/><circle cx="492.5" cy="431.1" r="2.7"/><circle cx="470.2" cy="449.1" r="2.7"/><circle cx="494.7" cy="452.1" r="2.7"/><circle cx="499.3" cy="456.3" r="2.7"/><circle cx="500.7" cy="395.9" r="2.7"/><circle cx="507.9" cy="398.5" r="2.7"/><circle cx="523.0" cy="398.8" r="2.7"/><circle cx="525.6" cy="400.5" r="2.7"/><circle cx="508.5" cy="405.7" r="2.7"/><circle cx="545.3" cy="409.0" r="2.7"/><circle cx="520.4" cy="409.0" r="2.7"/><circle cx="531.5" cy="408.8" r="2.7"/><circle cx="502.0" cy="414.3" r="2.7"/><circle cx="505.3" cy="419.5" r="2.7"/><circle cx="509.9" cy="426.8" r="2.7"/><circle cx="522.3" cy="422.8" r="2.7"/><circle cx="526.3" cy="419.5" r="2.7"/><circle cx="526.3" cy="427.4" r="2.7"/><circle cx="536.1" cy="423.5" r="2.7"/><circle cx="511.8" cy="434.0" r="2.7"/><circle cx="517.1" cy="432.7" r="2.7"/><circle cx="534.8" cy="434.0" r="2.7"/><circle cx="538.1" cy="433.3" r="2.7"/><circle cx="512.5" cy="442.5" r="2.7"/><circle cx="518.4" cy="437.9" r="2.7"/><circle cx="527.6" cy="439.2" r="2.7"/><circle cx="507.2" cy="447.1" r="2.7"/><circle cx="511.8" cy="448.4" r="2.7"/><circle cx="519.7" cy="449.8" r="2.7"/><circle cx="529.6" cy="445.8" r="2.7"/><circle cx="545.3" cy="449.1" r="2.7"/><circle cx="550.6" cy="450.4" r="2.7"/><circle cx="507.9" cy="455.0" r="2.7"/><circle cx="514.5" cy="453.7" r="2.7"/><circle cx="518.4" cy="455.0" r="2.7"/><circle cx="526.3" cy="456.3" r="2.7"/><circle cx="536.8" cy="455.0" r="2.7"/><circle cx="540.1" cy="458.9" r="2.7"/><circle cx="556.5" cy="455.7" r="2.7"/><circle cx="570.9" cy="460.3" r="2.7"/><circle cx="519.7" cy="461.6" r="2.7"/><circle cx="619.9" cy="432.9" r="2.7"/><circle cx="597.2" cy="462.5" r="2.7"/><circle cx="614.7" cy="462.9" r="2.7"/><circle cx="629.1" cy="462.9" r="2.7"/><circle cx="450.1" cy="465.0" r="2.7"/><circle cx="479.6" cy="465.0" r="2.7"/><circle cx="473.7" cy="470.6" r="2.7"/><circle cx="468.1" cy="487.3" r="2.7"/><circle cx="473.1" cy="490.6" r="2.7"/><circle cx="463.9" cy="491.9" r="2.7"/><circle cx="490.1" cy="484.7" r="2.7"/><circle cx="472.8" cy="502.2" r="2.7"/><circle cx="477.3" cy="506.1" r="2.7"/><circle cx="483.8" cy="507.7" r="2.7"/><circle cx="470.4" cy="510.3" r="2.7"/><circle cx="485.2" cy="513.2" r="2.7"/><circle cx="502.6" cy="466.3" r="2.7"/><circle cx="505.9" cy="465.6" r="2.7"/><circle cx="509.9" cy="468.3" r="2.7"/><circle cx="513.1" cy="468.9" r="2.7"/><circle cx="521.7" cy="465.6" r="2.7"/><circle cx="530.2" cy="463.7" r="2.7"/><circle cx="535.5" cy="468.3" r="2.7"/><circle cx="542.0" cy="464.3" r="2.7"/><circle cx="548.6" cy="465.0" r="2.7"/><circle cx="568.3" cy="465.0" r="2.7"/><circle cx="574.9" cy="465.0" r="2.7"/><circle cx="570.9" cy="463.7" r="2.7"/><circle cx="523.0" cy="472.2" r="2.7"/><circle cx="530.9" cy="472.2" r="2.7"/><circle cx="544.0" cy="470.2" r="2.7"/><circle cx="556.8" cy="472.9" r="2.7"/><circle cx="565.7" cy="476.1" r="2.7"/><circle cx="582.1" cy="470.9" r="2.7"/><circle cx="520.8" cy="478.8" r="2.7"/><circle cx="578.2" cy="483.4" r="2.7"/><circle cx="505.9" cy="484.0" r="2.7"/><circle cx="515.8" cy="487.3" r="2.7"/><circle cx="546.0" cy="488.6" r="2.7"/><circle cx="542.7" cy="491.6" r="2.7"/><circle cx="545.7" cy="493.5" r="2.7"/><circle cx="584.1" cy="489.9" r="2.7"/><circle cx="584.1" cy="491.2" r="2.7"/><circle cx="515.8" cy="502.2" r="2.7"/><circle cx="506.3" cy="512.3" r="2.7"/><circle cx="519.1" cy="513.2" r="2.7"/><circle cx="532.6" cy="511.9" r="2.7"/><circle cx="538.1" cy="511.4" r="2.7"/><circle cx="555.8" cy="510.3" r="2.7"/><circle cx="597.0" cy="464.0" r="2.7"/><circle cx="597.0" cy="467.4" r="2.7"/><circle cx="614.8" cy="464.9" r="2.7"/><circle cx="629.4" cy="464.9" r="2.7"/><circle cx="639.3" cy="470.0" r="2.7"/><circle cx="648.2" cy="476.3" r="2.7"/><circle cx="597.6" cy="475.7" r="2.7"/><circle cx="622.4" cy="475.1" r="2.7"/><circle cx="592.5" cy="477.6" r="2.7"/><circle cx="599.5" cy="477.6" r="2.7"/><circle cx="607.8" cy="479.5" r="2.7"/><circle cx="624.3" cy="479.5" r="2.7"/><circle cx="629.4" cy="481.8" r="2.7"/><circle cx="608.4" cy="487.8" r="2.7"/><circle cx="634.5" cy="487.8" r="2.7"/><circle cx="619.8" cy="494.1" r="2.7"/><circle cx="118.7" cy="164.4" r="2.7"/><circle cx="164.8" cy="149.0" r="2.7"/><circle cx="105.6" cy="73.1" r="2.7"/><circle cx="101.2" cy="116.8" r="2.7"/><circle cx="149.0" cy="136.8" r="2.7"/><circle cx="143.1" cy="168.6" r="2.7"/><circle cx="201.2" cy="197.6" r="2.7"/><circle cx="136.7" cy="106.8" r="2.7"/><circle cx="161.5" cy="155.2" r="2.7"/><circle cx="123.1" cy="98.1" r="2.7"/><circle cx="211.5" cy="182.6" r="2.7"/><circle cx="232.3" cy="210.0" r="2.7"/><circle cx="194.0" cy="186.8" r="2.7"/><circle cx="199.7" cy="175.2" r="2.7"/><circle cx="191.8" cy="197.1" r="2.7"/><circle cx="205.0" cy="202.9" r="2.7"/><circle cx="152.0" cy="158.5" r="2.7"/><circle cx="104.2" cy="128.3" r="2.7"/><circle cx="502.7" cy="161.4" r="2.7"/><circle cx="613.4" cy="191.3" r="2.7"/><circle cx="543.6" cy="188.2" r="2.7"/><circle cx="560.3" cy="179.9" r="2.7"/><circle cx="527.4" cy="134.5" r="2.7"/><circle cx="485.2" cy="153.3" r="2.7"/><circle cx="517.0" cy="127.6" r="2.7"/><circle cx="566.2" cy="194.7" r="2.7"/><circle cx="585.0" cy="173.6" r="2.7"/><circle cx="563.0" cy="192.5" r="2.7"/><circle cx="462.3" cy="79.9" r="2.7"/><circle cx="478.4" cy="90.6" r="2.7"/><circle cx="514.6" cy="180.0" r="2.7"/><circle cx="556.6" cy="170.1" r="2.7"/><circle cx="613.1" cy="206.2" r="2.7"/><circle cx="536.9" cy="151.6" r="2.7"/><circle cx="560.2" cy="165.3" r="2.7"/><circle cx="473.1" cy="119.9" r="2.7"/><circle cx="499.8" cy="141.2" r="2.7"/><circle cx="569.5" cy="160.3" r="2.7"/><circle cx="531.7" cy="152.5" r="2.7"/><circle cx="473.2" cy="139.4" r="2.7"/><circle cx="653.5" cy="199.9" r="2.7"/><circle cx="541.9" cy="145.7" r="2.7"/><circle cx="612.9" cy="185.0" r="2.7"/><circle cx="507.7" cy="169.9" r="2.7"/><circle cx="475.4" cy="117.4" r="2.7"/><circle cx="481.7" cy="131.1" r="2.7"/><circle cx="586.4" cy="176.9" r="2.7"/><circle cx="465.1" cy="90.1" r="2.7"/><circle cx="511.8" cy="155.7" r="2.7"/><circle cx="479.2" cy="121.4" r="2.7"/><circle cx="541.7" cy="141.5" r="2.7"/><circle cx="576.5" cy="176.0" r="2.7"/><circle cx="526.7" cy="179.2" r="2.7"/><circle cx="494.4" cy="154.3" r="2.7"/><circle cx="504.7" cy="169.0" r="2.7"/><circle cx="567.5" cy="172.5" r="2.7"/><circle cx="210.2" cy="465.1" r="2.7"/><circle cx="230.4" cy="477.6" r="2.7"/><circle cx="214.6" cy="479.5" r="2.7"/><circle cx="176.7" cy="460.4" r="2.7"/><circle cx="129.4" cy="442.7" r="2.7"/><circle cx="229.7" cy="465.8" r="2.7"/><circle cx="146.6" cy="431.7" r="2.7"/><circle cx="138.7" cy="384.7" r="2.7"/><circle cx="133.3" cy="449.9" r="2.7"/><circle cx="157.8" cy="427.7" r="2.7"/><circle cx="125.1" cy="369.5" r="2.7"/><circle cx="143.1" cy="396.6" r="2.7"/><circle cx="180.8" cy="456.7" r="2.7"/><circle cx="166.5" cy="455.4" r="2.7"/><circle cx="137.1" cy="363.5" r="2.7"/><circle cx="173.4" cy="443.0" r="2.7"/><circle cx="148.8" cy="401.1" r="2.7"/><circle cx="155.6" cy="447.3" r="2.7"/><circle cx="158.4" cy="424.4" r="2.7"/><circle cx="232.8" cy="480.0" r="2.7"/><circle cx="205.1" cy="457.6" r="2.7"/><circle cx="218.9" cy="483.9" r="2.7"/><circle cx="224.8" cy="471.9" r="2.7"/><circle cx="177.2" cy="427.5" r="2.7"/><circle cx="185.1" cy="481.6" r="2.7"/><circle cx="130.2" cy="421.8" r="2.7"/><circle cx="175.6" cy="432.9" r="2.7"/><circle cx="144.9" cy="460.7" r="2.7"/><circle cx="201.1" cy="449.2" r="2.7"/><circle cx="162.2" cy="457.6" r="2.7"/><circle cx="180.4" cy="475.6" r="2.7"/><circle cx="251.4" cy="485.9" r="2.7"/><circle cx="263.8" cy="482.7" r="2.7"/><circle cx="525.0" cy="435.1" r="2.7"/><circle cx="486.6" cy="363.8" r="2.7"/><circle cx="478.9" cy="362.9" r="2.7"/><circle cx="493.6" cy="360.0" r="2.7"/><circle cx="485.6" cy="414.6" r="2.7"/><circle cx="535.7" cy="426.5" r="2.7"/><circle cx="519.7" cy="405.8" r="2.7"/><circle cx="507.2" cy="443.8" r="2.7"/><circle cx="540.0" cy="472.3" r="2.7"/><circle cx="544.8" cy="456.4" r="2.7"/><circle cx="525.1" cy="453.5" r="2.7"/><circle cx="553.7" cy="455.1" r="2.7"/><circle cx="509.3" cy="451.5" r="2.7"/><circle cx="561.6" cy="452.3" r="2.7"/><circle cx="485.1" cy="422.7" r="2.7"/><circle cx="502.1" cy="419.6" r="2.7"/><circle cx="539.6" cy="445.3" r="2.7"/><circle cx="583.3" cy="486.8" r="2.7"/><circle cx="596.8" cy="480.5" r="2.7"/><circle cx="583.7" cy="474.6" r="2.7"/><circle cx="601.5" cy="491.8" r="2.7"/><circle cx="633.0" cy="484.5" r="2.7"/><circle cx="616.9" cy="484.5" r="2.7"/><circle cx="626.6" cy="470.3" r="2.7"/><circle cx="589.2" cy="467.9" r="2.7"/><circle cx="583.8" cy="460.8" r="2.7"/><circle cx="622.7" cy="462.3" r="2.7"/></g><g fill="#ff1a22" fill-opacity="0.75"><circle cx="91.9" cy="62.5" r="2.7"/><circle cx="91.9" cy="66.2" r="2.7"/><circle cx="123.4" cy="91.4" r="2.7"/><circle cx="116.5" cy="129.0" r="2.7"/><circle cx="133.2" cy="136.0" r="2.7"/><circle cx="112.1" cy="141.2" r="2.7"/><circle cx="120.8" cy="145.7" r="2.7"/><circle cx="129.6" cy="152.0" r="2.7"/><circle cx="115.8" cy="159.2" r="2.7"/><circle cx="146.3" cy="167.1" r="2.7"/><circle cx="126.3" cy="173.0" r="2.7"/><circle cx="230.8" cy="155.9" r="2.7"/><circle cx="181.5" cy="159.6" r="2.7"/><circle cx="192.0" cy="163.8" r="2.7"/><circle cx="181.9" cy="167.8" r="2.7"/><circle cx="166.4" cy="167.1" r="2.7"/><circle cx="165.1" cy="169.1" r="2.7"/><circle cx="156.1" cy="165.1" r="2.7"/><circle cx="173.6" cy="177.6" r="2.7"/><circle cx="186.1" cy="180.2" r="2.7"/><circle cx="244.3" cy="158.2" r="2.7"/><circle cx="271.1" cy="178.5" r="2.7"/><circle cx="128.6" cy="190.0" r="2.7"/><circle cx="155.3" cy="183.6" r="2.7"/><circle cx="158.6" cy="183.6" r="2.7"/><circle cx="186.3" cy="181.7" r="2.7"/><circle cx="194.8" cy="190.0" r="2.7"/><circle cx="225.8" cy="183.6" r="2.7"/><circle cx="161.2" cy="206.3" r="2.7"/><circle cx="175.4" cy="206.3" r="2.7"/><circle cx="182.0" cy="208.0" r="2.7"/><circle cx="192.2" cy="204.8" r="2.7"/><circle cx="158.6" cy="225.9" r="2.7"/><circle cx="159.9" cy="227.8" r="2.7"/><circle cx="245.9" cy="200.5" r="2.7"/><circle cx="251.2" cy="202.4" r="2.7"/><circle cx="269.7" cy="204.8" r="2.7"/><circle cx="271.0" cy="206.7" r="2.7"/><circle cx="268.3" cy="207.4" r="2.7"/><circle cx="271.0" cy="209.4" r="2.7"/><circle cx="264.4" cy="217.9" r="2.7"/><circle cx="271.0" cy="219.3" r="2.7"/><circle cx="452.6" cy="64.5" r="2.7"/><circle cx="452.0" cy="67.8" r="2.7"/><circle cx="484.2" cy="93.2" r="2.7"/><circle cx="477.3" cy="130.1" r="2.7"/><circle cx="488.1" cy="131.6" r="2.7"/><circle cx="492.7" cy="136.9" r="2.7"/><circle cx="471.7" cy="142.4" r="2.7"/><circle cx="482.9" cy="146.8" r="2.7"/><circle cx="475.4" cy="159.9" r="2.7"/><circle cx="484.6" cy="173.4" r="2.7"/><circle cx="544.4" cy="159.9" r="2.7"/><circle cx="550.9" cy="164.5" r="2.7"/><circle cx="508.9" cy="167.1" r="2.7"/><circle cx="522.9" cy="165.8" r="2.7"/><circle cx="529.1" cy="168.2" r="2.7"/><circle cx="535.2" cy="168.4" r="2.7"/><circle cx="527.8" cy="175.0" r="2.7"/><circle cx="532.8" cy="178.3" r="2.7"/><circle cx="523.6" cy="179.6" r="2.7"/><circle cx="548.6" cy="180.9" r="2.7"/><circle cx="582.7" cy="182.9" r="2.7"/><circle cx="589.7" cy="156.6" r="2.7"/><circle cx="607.7" cy="158.6" r="2.7"/><circle cx="634.6" cy="179.6" r="2.7"/><circle cx="485.5" cy="189.6" r="2.7"/><circle cx="540.7" cy="185.6" r="2.7"/><circle cx="557.5" cy="189.6" r="2.7"/><circle cx="583.4" cy="184.3" r="2.7"/><circle cx="515.1" cy="206.0" r="2.7"/><circle cx="545.9" cy="206.6" r="2.7"/><circle cx="544.9" cy="208.0" r="2.7"/><circle cx="557.8" cy="204.7" r="2.7"/><circle cx="519.4" cy="224.8" r="2.7"/><circle cx="523.3" cy="227.0" r="2.7"/><circle cx="608.6" cy="200.1" r="2.7"/><circle cx="608.6" cy="202.4" r="2.7"/><circle cx="631.7" cy="203.8" r="2.7"/><circle cx="634.6" cy="204.7" r="2.7"/><circle cx="640.1" cy="209.0" r="2.7"/><circle cx="627.8" cy="213.5" r="2.7"/><circle cx="629.6" cy="218.2" r="2.7"/><circle cx="646.7" cy="218.7" r="2.7"/><circle cx="114.9" cy="340.6" r="2.7"/><circle cx="141.8" cy="368.5" r="2.7"/><circle cx="134.6" cy="382.6" r="2.7"/><circle cx="135.0" cy="405.1" r="2.7"/><circle cx="151.0" cy="410.3" r="2.7"/><circle cx="130.7" cy="414.9" r="2.7"/><circle cx="145.5" cy="420.4" r="2.7"/><circle cx="133.3" cy="431.7" r="2.7"/><circle cx="146.0" cy="444.9" r="2.7"/><circle cx="136.6" cy="459.8" r="2.7"/><circle cx="235.5" cy="428.7" r="2.7"/><circle cx="240.8" cy="430.7" r="2.7"/><circle cx="155.0" cy="424.8" r="2.7"/><circle cx="185.2" cy="432.2" r="2.7"/><circle cx="190.8" cy="436.2" r="2.7"/><circle cx="166.1" cy="437.5" r="2.7"/><circle cx="179.9" cy="439.9" r="2.7"/><circle cx="185.6" cy="439.9" r="2.7"/><circle cx="184.5" cy="450.4" r="2.7"/><circle cx="189.1" cy="451.7" r="2.7"/><circle cx="163.5" cy="454.6" r="2.7"/><circle cx="172.7" cy="454.3" r="2.7"/><circle cx="199.6" cy="456.3" r="2.7"/><circle cx="219.7" cy="454.6" r="2.7"/><circle cx="196.4" cy="460.2" r="2.7"/><circle cx="265.4" cy="450.5" r="2.7"/><circle cx="136.3" cy="461.3" r="2.7"/><circle cx="197.0" cy="461.7" r="2.7"/><circle cx="187.2" cy="467.3" r="2.7"/><circle cx="241.7" cy="471.5" r="2.7"/><circle cx="158.9" cy="476.1" r="2.7"/><circle cx="183.2" cy="476.1" r="2.7"/><circle cx="197.4" cy="474.1" r="2.7"/><circle cx="200.6" cy="477.4" r="2.7"/><circle cx="166.8" cy="495.8" r="2.7"/><circle cx="186.1" cy="493.8" r="2.7"/><circle cx="262.2" cy="473.4" r="2.7"/><circle cx="265.3" cy="474.6" r="2.7"/><circle cx="262.2" cy="478.4" r="2.7"/><circle cx="270.3" cy="478.4" r="2.7"/><circle cx="262.9" cy="487.1" r="2.7"/><circle cx="275.9" cy="487.7" r="2.7"/><circle cx="465.8" cy="342.6" r="2.7"/><circle cx="465.2" cy="346.5" r="2.7"/><circle cx="496.7" cy="370.5" r="2.7"/><circle cx="487.5" cy="385.0" r="2.7"/><circle cx="490.8" cy="406.4" r="2.7"/><circle cx="484.5" cy="417.6" r="2.7"/><circle cx="498.7" cy="422.4" r="2.7"/><circle cx="488.3" cy="434.2" r="2.7"/><circle cx="499.3" cy="447.8" r="2.7"/><circle cx="492.1" cy="462.6" r="2.7"/><circle cx="500.7" cy="422.2" r="2.7"/><circle cx="544.4" cy="434.6" r="2.7"/><circle cx="551.9" cy="439.0" r="2.7"/><circle cx="520.4" cy="441.9" r="2.7"/><circle cx="525.2" cy="440.6" r="2.7"/><circle cx="539.4" cy="442.1" r="2.7"/><circle cx="543.4" cy="443.2" r="2.7"/><circle cx="502.0" cy="447.8" r="2.7"/><circle cx="526.0" cy="449.1" r="2.7"/><circle cx="533.9" cy="452.4" r="2.7"/><circle cx="523.4" cy="457.4" r="2.7"/><circle cx="530.9" cy="457.4" r="2.7"/><circle cx="549.9" cy="454.4" r="2.7"/><circle cx="556.5" cy="459.6" r="2.7"/><circle cx="579.5" cy="457.6" r="2.7"/><circle cx="597.2" cy="431.2" r="2.7"/><circle cx="603.0" cy="433.3" r="2.7"/><circle cx="629.3" cy="453.1" r="2.7"/><circle cx="492.1" cy="464.1" r="2.7"/><circle cx="547.6" cy="470.6" r="2.7"/><circle cx="518.1" cy="479.0" r="2.7"/><circle cx="539.4" cy="479.4" r="2.7"/><circle cx="556.2" cy="477.5" r="2.7"/><circle cx="559.4" cy="480.7" r="2.7"/><circle cx="523.6" cy="499.1" r="2.7"/><circle cx="542.0" cy="497.4" r="2.7"/><circle cx="604.0" cy="473.2" r="2.7"/><circle cx="604.0" cy="475.7" r="2.7"/><circle cx="604.6" cy="478.9" r="2.7"/><circle cx="626.2" cy="476.3" r="2.7"/><circle cx="630.0" cy="478.2" r="2.7"/><circle cx="634.7" cy="481.8" r="2.7"/><circle cx="625.6" cy="481.4" r="2.7"/><circle cx="626.6" cy="489.9" r="2.7"/><circle cx="641.1" cy="491.2" r="2.7"/></g><path d="M104.3,86 C132.46,158.27 181.93,215.14 264.8,211.8" fill="none" stroke="#ff0000" stroke-width="4.7"/><path d="M95.9,66.8 Q108,75.5 116.9,91.5 L106.1,85 L102.6,88 L101.3,105 Z" fill="#ff0000"/><path d="M467.4,87.5 C493.66,185.20 536.82,208.27 632.5,209.4" fill="none" stroke="#ff0000" stroke-width="4.7"/><path d="M458.8,70.2 Q471,78.5 479.5,95.7 L469.2,89.6 L465.5,92.7 L464.3,109.7 Z" fill="#ff0000"/><path d="M118.9,357.3 C150.80,441.61 184.25,482.94 280.3,482.7" fill="none" stroke="#ff0000" stroke-width="4.7"/><path d="M110.8,337 Q123,345.5 131.25,362.8 L120.6,355.8 L117.2,358.9 L115.9,376.9 Z" fill="#ff0000"/><path d="M480.5,359.5 C511.72,434.01 555.99,487.98 642.6,485.6" fill="none" stroke="#ff0000" stroke-width="4.7"/><path d="M472.4,340.3 Q484.5,349 494.1,364.9 L483,358.5 L479.2,361.8 L478.3,378.7 Z" fill="#ff0000"/><g fill="none" stroke="#ef4f58" stroke-width="1.1"><rect x="198.1" y="179.4" width="15" height="34.3"/><rect x="263.4" y="151.3" width="14.9" height="72.3"/></g><g stroke="#000" stroke-width="1.5" fill="none"><line x1="72.08" y1="257.20" x2="72.08" y2="253.60"/><line x1="125.97" y1="257.20" x2="125.97" y2="253.60"/><line x1="179.88" y1="257.20" x2="179.88" y2="253.60"/><line x1="233.78" y1="257.20" x2="233.78" y2="253.60"/><line x1="287.68" y1="257.20" x2="287.68" y2="253.60"/><line x1="99.03" y1="257.20" x2="99.03" y2="255.00"/><line x1="152.92" y1="257.20" x2="152.92" y2="255.00"/><line x1="206.83" y1="257.20" x2="206.83" y2="255.00"/><line x1="260.73" y1="257.20" x2="260.73" y2="255.00"/><line x1="314.62" y1="257.20" x2="314.62" y2="255.00"/><line x1="58.60" y1="242.14" x2="62.20" y2="242.14"/><line x1="58.60" y1="212.02" x2="62.20" y2="212.02"/><line x1="58.60" y1="181.90" x2="62.20" y2="181.90"/><line x1="58.60" y1="151.78" x2="62.20" y2="151.78"/><line x1="58.60" y1="121.66" x2="62.20" y2="121.66"/><line x1="58.60" y1="91.54" x2="62.20" y2="91.54"/><line x1="58.60" y1="61.42" x2="62.20" y2="61.42"/><line x1="58.60" y1="31.30" x2="62.20" y2="31.30"/><line x1="58.60" y1="227.08" x2="60.80" y2="227.08"/><line x1="58.60" y1="196.96" x2="60.80" y2="196.96"/><line x1="58.60" y1="166.84" x2="60.80" y2="166.84"/><line x1="58.60" y1="136.72" x2="60.80" y2="136.72"/><line x1="58.60" y1="106.60" x2="60.80" y2="106.60"/><line x1="58.60" y1="76.48" x2="60.80" y2="76.48"/><line x1="58.60" y1="46.36" x2="60.80" y2="46.36"/><rect x="58.60" y="31.30" width="269.50" height="225.90" fill="none"/></g><g font-size="11" font-weight="bold"><text x="72.08" y="270.40" text-anchor="middle">0</text><text x="125.97" y="270.40" text-anchor="middle">20</text><text x="179.88" y="270.40" text-anchor="middle">40</text><text x="233.78" y="270.40" text-anchor="middle">60</text><text x="287.68" y="270.40" text-anchor="middle">80</text><text x="54.60" y="245.99" text-anchor="end">0</text><text x="54.60" y="215.87" text-anchor="end">100</text><text x="54.60" y="185.75" text-anchor="end">200</text><text x="54.60" y="155.63" text-anchor="end">300</text><text x="54.60" y="125.51" text-anchor="end">400</text><text x="54.60" y="95.39" text-anchor="end">500</text><text x="54.60" y="65.27" text-anchor="end">600</text><text x="54.60" y="35.15" text-anchor="end">700</text></g><g stroke="#000" stroke-width="1.5" fill="none"><line x1="433.44" y1="256.50" x2="433.44" y2="252.90"/><line x1="487.72" y1="256.50" x2="487.72" y2="252.90"/><line x1="542.00" y1="256.50" x2="542.00" y2="252.90"/><line x1="596.28" y1="256.50" x2="596.28" y2="252.90"/><line x1="650.56" y1="256.50" x2="650.56" y2="252.90"/><line x1="460.58" y1="256.50" x2="460.58" y2="254.30"/><line x1="514.86" y1="256.50" x2="514.86" y2="254.30"/><line x1="569.14" y1="256.50" x2="569.14" y2="254.30"/><line x1="623.42" y1="256.50" x2="623.42" y2="254.30"/><line x1="406.30" y1="241.62" x2="409.90" y2="241.62"/><line x1="406.30" y1="211.86" x2="409.90" y2="211.86"/><line x1="406.30" y1="182.10" x2="409.90" y2="182.10"/><line x1="406.30" y1="152.34" x2="409.90" y2="152.34"/><line x1="406.30" y1="122.58" x2="409.90" y2="122.58"/><line x1="406.30" y1="92.82" x2="409.90" y2="92.82"/><line x1="406.30" y1="63.06" x2="409.90" y2="63.06"/><line x1="406.30" y1="33.30" x2="409.90" y2="33.30"/><line x1="406.30" y1="226.74" x2="408.50" y2="226.74"/><line x1="406.30" y1="196.98" x2="408.50" y2="196.98"/><line x1="406.30" y1="167.22" x2="408.50" y2="167.22"/><line x1="406.30" y1="137.46" x2="408.50" y2="137.46"/><line x1="406.30" y1="107.70" x2="408.50" y2="107.70"/><line x1="406.30" y1="77.94" x2="408.50" y2="77.94"/><line x1="406.30" y1="48.18" x2="408.50" y2="48.18"/><rect x="406.30" y="33.30" width="271.40" height="223.20" fill="none"/></g><g font-size="11" font-weight="bold"><text x="433.44" y="269.70" text-anchor="middle">0</text><text x="487.72" y="269.70" text-anchor="middle">2k</text><text x="542.00" y="269.70" text-anchor="middle">4k</text><text x="596.28" y="269.70" text-anchor="middle">6k</text><text x="650.56" y="269.70" text-anchor="middle">8k</text><text x="402.30" y="245.47" text-anchor="end">0</text><text x="402.30" y="215.71" text-anchor="end">100</text><text x="402.30" y="185.95" text-anchor="end">200</text><text x="402.30" y="156.19" text-anchor="end">300</text><text x="402.30" y="126.43" text-anchor="end">400</text><text x="402.30" y="96.67" text-anchor="end">500</text><text x="402.30" y="66.91" text-anchor="end">600</text><text x="402.30" y="37.15" text-anchor="end">700</text></g><g stroke="#000" stroke-width="1.5" fill="none"><line x1="87.02" y1="524.00" x2="87.02" y2="520.40"/><line x1="135.05" y1="524.00" x2="135.05" y2="520.40"/><line x1="183.09" y1="524.00" x2="183.09" y2="520.40"/><line x1="231.13" y1="524.00" x2="231.13" y2="520.40"/><line x1="279.16" y1="524.00" x2="279.16" y2="520.40"/><line x1="327.20" y1="524.00" x2="327.20" y2="520.40"/><line x1="111.04" y1="524.00" x2="111.04" y2="521.80"/><line x1="159.07" y1="524.00" x2="159.07" y2="521.80"/><line x1="207.11" y1="524.00" x2="207.11" y2="521.80"/><line x1="255.15" y1="524.00" x2="255.15" y2="521.80"/><line x1="303.18" y1="524.00" x2="303.18" y2="521.80"/><line x1="63.00" y1="509.82" x2="66.60" y2="509.82"/><line x1="63.00" y1="481.46" x2="66.60" y2="481.46"/><line x1="63.00" y1="453.10" x2="66.60" y2="453.10"/><line x1="63.00" y1="424.74" x2="66.60" y2="424.74"/><line x1="63.00" y1="396.38" x2="66.60" y2="396.38"/><line x1="63.00" y1="368.02" x2="66.60" y2="368.02"/><line x1="63.00" y1="339.66" x2="66.60" y2="339.66"/><line x1="63.00" y1="311.30" x2="66.60" y2="311.30"/><line x1="63.00" y1="495.64" x2="65.20" y2="495.64"/><line x1="63.00" y1="467.28" x2="65.20" y2="467.28"/><line x1="63.00" y1="438.92" x2="65.20" y2="438.92"/><line x1="63.00" y1="410.56" x2="65.20" y2="410.56"/><line x1="63.00" y1="382.20" x2="65.20" y2="382.20"/><line x1="63.00" y1="353.84" x2="65.20" y2="353.84"/><line x1="63.00" y1="325.48" x2="65.20" y2="325.48"/><rect x="63.00" y="311.30" width="264.20" height="212.70" fill="none"/></g><g font-size="12.5" font-weight="bold"><text x="87.02" y="539.00" text-anchor="middle">0</text><text x="135.05" y="539.00" text-anchor="middle">100</text><text x="183.09" y="539.00" text-anchor="middle">200</text><text x="231.13" y="539.00" text-anchor="middle">300</text><text x="279.16" y="539.00" text-anchor="middle">400</text><text x="327.20" y="539.00" text-anchor="middle">500</text><text x="57.50" y="514.19" text-anchor="end">0</text><text x="57.50" y="485.83" text-anchor="end">100</text><text x="57.50" y="457.48" text-anchor="end">200</text><text x="57.50" y="429.12" text-anchor="end">300</text><text x="57.50" y="400.75" text-anchor="end">400</text><text x="57.50" y="372.39" text-anchor="end">500</text><text x="57.50" y="344.03" text-anchor="end">600</text><text x="57.50" y="315.68" text-anchor="end">700</text></g><g stroke="#000" stroke-width="1.5" fill="none"><line x1="434.64" y1="527.50" x2="434.64" y2="523.90"/><line x1="483.11" y1="527.50" x2="483.11" y2="523.90"/><line x1="531.58" y1="527.50" x2="531.58" y2="523.90"/><line x1="580.05" y1="527.50" x2="580.05" y2="523.90"/><line x1="628.53" y1="527.50" x2="628.53" y2="523.90"/><line x1="677.00" y1="527.50" x2="677.00" y2="523.90"/><line x1="458.87" y1="527.50" x2="458.87" y2="525.30"/><line x1="507.35" y1="527.50" x2="507.35" y2="525.30"/><line x1="555.82" y1="527.50" x2="555.82" y2="525.30"/><line x1="604.29" y1="527.50" x2="604.29" y2="525.30"/><line x1="652.76" y1="527.50" x2="652.76" y2="525.30"/><line x1="410.40" y1="513.22" x2="414.00" y2="513.22"/><line x1="410.40" y1="484.66" x2="414.00" y2="484.66"/><line x1="410.40" y1="456.10" x2="414.00" y2="456.10"/><line x1="410.40" y1="427.54" x2="414.00" y2="427.54"/><line x1="410.40" y1="398.98" x2="414.00" y2="398.98"/><line x1="410.40" y1="370.42" x2="414.00" y2="370.42"/><line x1="410.40" y1="341.86" x2="414.00" y2="341.86"/><line x1="410.40" y1="313.30" x2="414.00" y2="313.30"/><line x1="410.40" y1="498.94" x2="412.60" y2="498.94"/><line x1="410.40" y1="470.38" x2="412.60" y2="470.38"/><line x1="410.40" y1="441.82" x2="412.60" y2="441.82"/><line x1="410.40" y1="413.26" x2="412.60" y2="413.26"/><line x1="410.40" y1="384.70" x2="412.60" y2="384.70"/><line x1="410.40" y1="356.14" x2="412.60" y2="356.14"/><line x1="410.40" y1="327.58" x2="412.60" y2="327.58"/><rect x="410.40" y="313.30" width="266.60" height="214.20" fill="none"/></g><g font-size="12.5" font-weight="bold"><text x="434.64" y="542.50" text-anchor="middle">0</text><text x="483.11" y="542.50" text-anchor="middle">1k</text><text x="531.58" y="542.50" text-anchor="middle">2k</text><text x="580.05" y="542.50" text-anchor="middle">3k</text><text x="628.53" y="542.50" text-anchor="middle">4k</text><text x="677.00" y="542.50" text-anchor="middle">5k</text><text x="404.90" y="517.60" text-anchor="end">0</text><text x="404.90" y="489.03" text-anchor="end">100</text><text x="404.90" y="460.48" text-anchor="end">200</text><text x="404.90" y="431.92" text-anchor="end">300</text><text x="404.90" y="403.36" text-anchor="end">400</text><text x="404.90" y="374.80" text-anchor="end">500</text><text x="404.90" y="346.24" text-anchor="end">600</text><text x="404.90" y="317.68" text-anchor="end">700</text></g><text x="-0.25" y="19.6" font-size="27" font-weight="bold" textLength="34.2" lengthAdjust="spacingAndGlyphs">(a)</text><text x="331.5" y="19.7" font-size="27" font-weight="bold" textLength="35.7" lengthAdjust="spacingAndGlyphs">(b)</text><text x="-0.3" y="289.1" font-size="27" font-weight="bold" textLength="32.8" lengthAdjust="spacingAndGlyphs">(c)</text><text x="331.8" y="289.2" font-size="27" font-weight="bold" textLength="35.8" lengthAdjust="spacingAndGlyphs">(d)</text><rect x="46.5" y="4.5" width="276.5" height="18" fill="#d0d0d0" stroke="#bcbcbc" stroke-width="1"/><circle cx="58.7" cy="14.5" r="2.5" fill="#7b9fd9"/><circle cx="148.8" cy="14.5" r="2.5" fill="#f0c85e"/><circle cx="231.5" cy="14.5" r="2.5" fill="#ea3f4a"/><text x="72.4" y="17.6" font-size="13" font-weight="bold" textLength="66" lengthAdjust="spacingAndGlyphs">Training set</text><text x="163.3" y="17.6" font-size="13" font-weight="bold" textLength="57.6" lengthAdjust="spacingAndGlyphs">Testing set</text><text x="245.3" y="17.6" font-size="13" font-weight="bold" textLength="75.3" lengthAdjust="spacingAndGlyphs">Validation set</text><g transform="translate(26.3,208.5) rotate(-90)"><text x="0" y="0" font-weight="bold"><tspan font-size="26" font-style="italic" stroke="#000" stroke-width="0.35">d</tspan><tspan font-size="14" dy="8.5">33</tspan><tspan font-size="25" dy="-8.5" dx="2.5"> (pC N</tspan><tspan font-size="15" dy="-9">-1</tspan><tspan font-size="25" dy="9">)</tspan></text></g><g transform="translate(373.3,208.5) rotate(-90)"><text x="0" y="0" font-weight="bold"><tspan font-size="26" font-style="italic" stroke="#000" stroke-width="0.35">d</tspan><tspan font-size="14" dy="8.5">33</tspan><tspan font-size="25" dy="-8.5" dx="2.5"> (pC N</tspan><tspan font-size="15" dy="-9">-1</tspan><tspan font-size="25" dy="9">)</tspan></text></g><g transform="translate(28.5,474.5) rotate(-90)"><text x="0" y="0" font-weight="bold"><tspan font-size="26" font-style="italic" stroke="#000" stroke-width="0.35">d</tspan><tspan font-size="14" dy="8.5">33</tspan><tspan font-size="25" dy="-8.5" dx="2.5"> (pC N</tspan><tspan font-size="15" dy="-9">-1</tspan><tspan font-size="25" dy="9">)</tspan></text></g><g transform="translate(375.5,474.5) rotate(-90)"><text x="0" y="0" font-weight="bold"><tspan font-size="26" font-style="italic" stroke="#000" stroke-width="0.35">d</tspan><tspan font-size="14" dy="8.5">33</tspan><tspan font-size="25" dy="-8.5" dx="2.5"> (pC N</tspan><tspan font-size="15" dy="-9">-1</tspan><tspan font-size="25" dy="9">)</tspan></text></g><text x="86.00" y="289.10" font-size="20.5" font-weight="bold" font-style="italic" textLength="14.90" lengthAdjust="spacingAndGlyphs" stroke="#000" stroke-width="0.35">D</text><text x="102.60" y="276.50" font-size="11" font-weight="bold">1</text><text x="101.60" y="295.50" font-size="11.3" font-weight="bold" textLength="17.70" lengthAdjust="spacingAndGlyphs">747</text><text x="119.60" y="289.10" font-size="17" font-weight="bold">:</text><text x="131.00" y="289.30" font-size="17.5" font-weight="bold">e</text><text x="139.30" y="283.50" font-size="12">(</text><text x="142.80" y="283.50" font-size="12" font-style="italic" textLength="18.90" lengthAdjust="spacingAndGlyphs">NM</text><text x="161.70" y="285.40" font-size="8" font-weight="bold" textLength="4.30" lengthAdjust="spacingAndGlyphs">B</text><text x="166.00" y="283.50" font-size="12">-</text><text x="168.50" y="283.50" font-size="12" font-style="italic" textLength="19.30" lengthAdjust="spacingAndGlyphs">MV</text><text x="187.90" y="285.40" font-size="8" font-weight="bold" textLength="4.30" lengthAdjust="spacingAndGlyphs">B</text><text x="192.60" y="283.50" font-size="12">)</text><text x="196.80" y="289.30" font-size="17" font-weight="bold" textLength="4.40" lengthAdjust="spacingAndGlyphs">/</text><text x="201.00" y="289.30" font-size="18" font-weight="bold">(</text><text x="206.40" y="289.30" font-size="18" font-weight="bold" font-style="italic" textLength="19.90" lengthAdjust="spacingAndGlyphs" stroke="#000" stroke-width="0.35">ID</text><text x="226.20" y="294.70" font-size="11.5" font-weight="bold" textLength="7.80" lengthAdjust="spacingAndGlyphs">A</text><text x="233.80" y="289.30" font-size="18" font-weight="bold">)</text><text x="239.60" y="283.00" font-size="10.7" font-weight="bold">3</text><text x="381.00" y="291.60" font-size="21" font-weight="bold" font-style="italic" textLength="15.00" lengthAdjust="spacingAndGlyphs" stroke="#000" stroke-width="0.35">D</text><text x="397.40" y="278.80" font-size="10.5" font-weight="bold">2</text><text x="396.40" y="297.80" font-size="11" font-weight="bold" textLength="17.40" lengthAdjust="spacingAndGlyphs">120</text><text x="414.60" y="291.60" font-size="18" font-weight="bold">:</text><text x="423.90" y="292.50" font-size="21" font-weight="bold">e</text><text x="434.00" y="286.00" font-size="13.5">(</text><text x="437.60" y="286.00" font-size="13.5" font-style="italic" textLength="24.60" lengthAdjust="spacingAndGlyphs">NM</text><text x="462.20" y="289.30" font-size="9" font-weight="bold" textLength="6.60" lengthAdjust="spacingAndGlyphs">B</text><text x="468.60" y="286.00" font-size="13.5">-</text><text x="472.30" y="286.00" font-size="13.5" font-style="italic" textLength="23.40" lengthAdjust="spacingAndGlyphs">MV</text><text x="496.20" y="289.30" font-size="9" font-weight="bold" textLength="6.10" lengthAdjust="spacingAndGlyphs">B</text><text x="502.60" y="286.00" font-size="13.5">)</text><text x="507.80" y="290.50" font-size="15" font-weight="bold">·</text><text x="513.60" y="293.50" font-size="21" font-weight="bold" font-style="italic" textLength="22.80" lengthAdjust="spacingAndGlyphs" stroke="#000" stroke-width="0.35">ST</text><text x="536.40" y="293.50" font-size="21" font-weight="bold" textLength="5.80" lengthAdjust="spacingAndGlyphs">/</text><text x="543.30" y="293.50" font-size="21" font-weight="bold" textLength="15.70" lengthAdjust="spacingAndGlyphs">((</text><text x="559.50" y="293.50" font-size="21" font-weight="bold" font-style="italic" textLength="21.50" lengthAdjust="spacingAndGlyphs" stroke="#000" stroke-width="0.35">ID</text><text x="581.50" y="300.80" font-size="12.5" font-weight="bold" textLength="9.60" lengthAdjust="spacingAndGlyphs">A</text><text x="591.40" y="293.50" font-size="21" font-weight="bold">)</text><text x="599.80" y="286.40" font-size="13.5">3</text><text x="614.00" y="290.50" font-size="15" font-weight="bold">·</text><text x="620.50" y="293.50" font-size="21" font-weight="bold" font-style="italic" textLength="33.50" lengthAdjust="spacingAndGlyphs" stroke="#000" stroke-width="0.35">MV</text><text x="653.60" y="299.60" font-size="14" font-weight="bold" textLength="9.00" lengthAdjust="spacingAndGlyphs">B</text><text x="662.80" y="293.50" font-size="21">)</text><text x="32.40" y="561.00" font-size="19.5" font-weight="bold" font-style="italic" textLength="15.30" lengthAdjust="spacingAndGlyphs" stroke="#000" stroke-width="0.35">D</text><text x="48.60" y="550.50" font-size="9.8" font-weight="bold">3</text><text x="48.00" y="567.60" font-size="11.8" font-weight="bold" textLength="18.10" lengthAdjust="spacingAndGlyphs">258</text><text x="66.40" y="561.00" font-size="17" font-weight="bold">:</text><text x="80.00" y="561.50" font-size="19.5" font-weight="bold">e</text><text x="89.20" y="553.90" font-size="13">(</text><text x="92.70" y="553.90" font-size="13" font-style="italic" textLength="23.80" lengthAdjust="spacingAndGlyphs">NM</text><text x="116.50" y="557.00" font-size="8.5" font-weight="bold" textLength="5.30" lengthAdjust="spacingAndGlyphs">B</text><text x="121.80" y="553.90" font-size="13">-</text><text x="125.50" y="553.90" font-size="13" font-style="italic" textLength="22.50" lengthAdjust="spacingAndGlyphs">MV</text><text x="148.00" y="557.00" font-size="8.5" font-weight="bold" textLength="5.30" lengthAdjust="spacingAndGlyphs">B</text><text x="153.50" y="553.90" font-size="13">)</text><text x="157.90" y="558.50" font-size="14" font-weight="bold">·</text><text x="163.80" y="561.50" font-size="20.5" font-weight="bold" font-style="italic" textLength="23.10" lengthAdjust="spacingAndGlyphs" stroke="#000" stroke-width="0.35">ST</text><text x="186.90" y="561.50" font-size="20.5" font-weight="bold" textLength="5.30" lengthAdjust="spacingAndGlyphs">/</text><text x="193.20" y="561.50" font-size="20.5" font-weight="bold" textLength="14.10" lengthAdjust="spacingAndGlyphs">((</text><text x="207.80" y="561.50" font-size="20.5" font-weight="bold" font-style="italic" textLength="20.50" lengthAdjust="spacingAndGlyphs" stroke="#000" stroke-width="0.35">ID</text><text x="229.00" y="566.30" font-size="11.5" font-weight="bold" textLength="8.50" lengthAdjust="spacingAndGlyphs">A</text><text x="237.80" y="561.50" font-size="20.5" font-weight="bold">)</text><text x="245.00" y="552.50" font-size="11" font-weight="bold">2</text><text x="257.40" y="558.50" font-size="14" font-weight="bold">·</text><text x="263.00" y="561.70" font-size="19" font-weight="bold" font-style="italic" textLength="29.60" lengthAdjust="spacingAndGlyphs" stroke="#000" stroke-width="0.35">MV</text><text x="294.30" y="566.30" font-size="11" font-weight="bold" textLength="7.50" lengthAdjust="spacingAndGlyphs">B</text><text x="302.60" y="561.70" font-size="19" font-weight="bold">)</text><text x="416.40" y="565.00" font-size="19.5" font-weight="bold" font-style="italic" textLength="15.30" lengthAdjust="spacingAndGlyphs" stroke="#000" stroke-width="0.35">D</text><text x="433.40" y="555.80" font-size="9.5" font-weight="bold">4</text><text x="431.50" y="570.70" font-size="11.8" font-weight="bold" textLength="24.50" lengthAdjust="spacingAndGlyphs">simp</text><text x="456.40" y="565.00" font-size="17" font-weight="bold">:</text><text x="467.80" y="565.00" font-size="17.5" font-weight="bold">e</text><text x="476.80" y="557.10" font-size="12.5">(</text><text x="480.20" y="557.10" font-size="12.5" font-style="italic" textLength="23.30" lengthAdjust="spacingAndGlyphs">NM</text><text x="503.50" y="561.00" font-size="8.5" font-weight="bold" textLength="5.90" lengthAdjust="spacingAndGlyphs">B</text><text x="509.20" y="557.10" font-size="12.5">-</text><text x="512.50" y="557.10" font-size="12.5" font-style="italic" textLength="21.90" lengthAdjust="spacingAndGlyphs">MV</text><text x="534.40" y="561.00" font-size="8.5" font-weight="bold" textLength="5.90" lengthAdjust="spacingAndGlyphs">B</text><text x="541.30" y="557.10" font-size="12.5">)</text><text x="545.30" y="562.00" font-size="14" font-weight="bold">·</text><text x="551.40" y="564.90" font-size="20.5" font-weight="bold" font-style="italic" textLength="21.90" lengthAdjust="spacingAndGlyphs" stroke="#000" stroke-width="0.35">ST</text><text x="573.30" y="564.90" font-size="20.5" font-weight="bold" textLength="5.20" lengthAdjust="spacingAndGlyphs">/</text><text x="579.60" y="564.90" font-size="20.5" font-weight="bold">(</text><text x="586.30" y="564.90" font-size="20.5" font-weight="bold" font-style="italic" textLength="21.80" lengthAdjust="spacingAndGlyphs" stroke="#000" stroke-width="0.35">ID</text><text x="608.60" y="570.90" font-size="12" font-weight="bold" textLength="9.30" lengthAdjust="spacingAndGlyphs">A</text><text x="617.70" y="564.90" font-size="20.5" font-weight="bold">)</text><text x="625.00" y="557.70" font-size="11" font-weight="bold">2</text></svg></body></html>
